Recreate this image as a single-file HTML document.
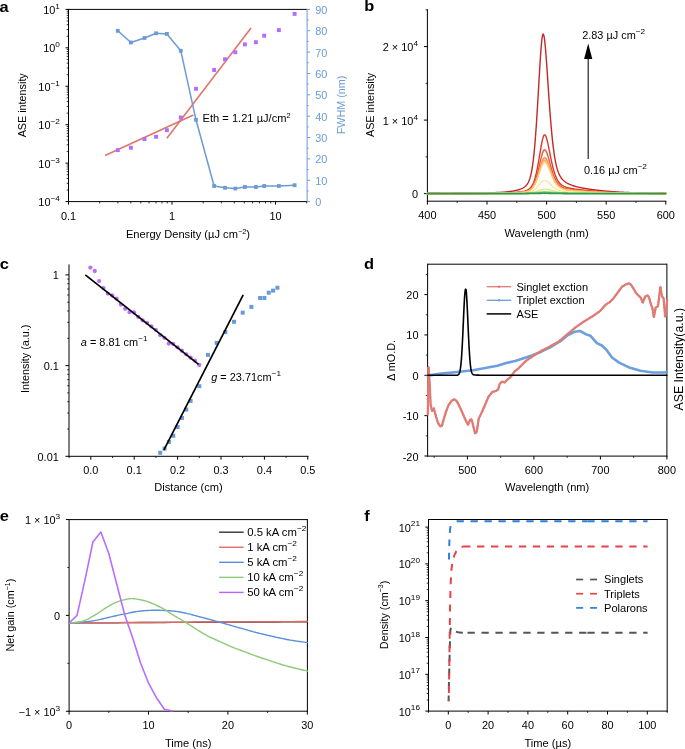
<!DOCTYPE html>
<html><head><meta charset="utf-8"><style>
html,body{margin:0;padding:0;background:#fff;}
svg{display:block;will-change:transform;}
text{font-family:"Liberation Sans", sans-serif;}
</style></head><body>
<svg width="685" height="749" viewBox="0 0 685 749">
<rect width="685" height="749" fill="#fff"/>
<text font-size="15.5" text-anchor="start" fill="#000" font-weight="bold" transform="translate(-0.60 11.50) scale(1.06 1)" >a</text>
<line x1="68.50" y1="9.40" x2="307.10" y2="9.40" stroke="#000" stroke-width="1" />
<line x1="68.50" y1="8.90" x2="68.50" y2="202.10" stroke="#000" stroke-width="1" />
<line x1="68.00" y1="201.60" x2="307.10" y2="201.60" stroke="#000" stroke-width="1" />
<line x1="307.10" y1="8.90" x2="307.10" y2="202.10" stroke="#6a9bd6" stroke-width="1" />
<line x1="65.50" y1="201.60" x2="68.50" y2="201.60" stroke="#000" stroke-width="1" />
<line x1="66.70" y1="190.03" x2="68.50" y2="190.03" stroke="#000" stroke-width="0.8" />
<line x1="66.70" y1="183.26" x2="68.50" y2="183.26" stroke="#000" stroke-width="0.8" />
<line x1="66.70" y1="178.46" x2="68.50" y2="178.46" stroke="#000" stroke-width="0.8" />
<line x1="66.70" y1="174.73" x2="68.50" y2="174.73" stroke="#000" stroke-width="0.8" />
<line x1="66.70" y1="171.69" x2="68.50" y2="171.69" stroke="#000" stroke-width="0.8" />
<line x1="66.70" y1="169.11" x2="68.50" y2="169.11" stroke="#000" stroke-width="0.8" />
<line x1="66.70" y1="166.89" x2="68.50" y2="166.89" stroke="#000" stroke-width="0.8" />
<line x1="66.70" y1="164.92" x2="68.50" y2="164.92" stroke="#000" stroke-width="0.8" />
<text font-size="10.3" text-anchor="end" fill="#000" transform="translate(59.90 206.10) scale(1.06 1)" >10<tspan dy="-5.1" font-size="7.8">−4</tspan></text>
<line x1="65.50" y1="163.16" x2="68.50" y2="163.16" stroke="#000" stroke-width="1" />
<line x1="66.70" y1="151.59" x2="68.50" y2="151.59" stroke="#000" stroke-width="0.8" />
<line x1="66.70" y1="144.82" x2="68.50" y2="144.82" stroke="#000" stroke-width="0.8" />
<line x1="66.70" y1="140.02" x2="68.50" y2="140.02" stroke="#000" stroke-width="0.8" />
<line x1="66.70" y1="136.29" x2="68.50" y2="136.29" stroke="#000" stroke-width="0.8" />
<line x1="66.70" y1="133.25" x2="68.50" y2="133.25" stroke="#000" stroke-width="0.8" />
<line x1="66.70" y1="130.67" x2="68.50" y2="130.67" stroke="#000" stroke-width="0.8" />
<line x1="66.70" y1="128.45" x2="68.50" y2="128.45" stroke="#000" stroke-width="0.8" />
<line x1="66.70" y1="126.48" x2="68.50" y2="126.48" stroke="#000" stroke-width="0.8" />
<text font-size="10.3" text-anchor="end" fill="#000" transform="translate(59.90 167.66) scale(1.06 1)" >10<tspan dy="-5.1" font-size="7.8">−3</tspan></text>
<line x1="65.50" y1="124.72" x2="68.50" y2="124.72" stroke="#000" stroke-width="1" />
<line x1="66.70" y1="113.15" x2="68.50" y2="113.15" stroke="#000" stroke-width="0.8" />
<line x1="66.70" y1="106.38" x2="68.50" y2="106.38" stroke="#000" stroke-width="0.8" />
<line x1="66.70" y1="101.58" x2="68.50" y2="101.58" stroke="#000" stroke-width="0.8" />
<line x1="66.70" y1="97.85" x2="68.50" y2="97.85" stroke="#000" stroke-width="0.8" />
<line x1="66.70" y1="94.81" x2="68.50" y2="94.81" stroke="#000" stroke-width="0.8" />
<line x1="66.70" y1="92.23" x2="68.50" y2="92.23" stroke="#000" stroke-width="0.8" />
<line x1="66.70" y1="90.01" x2="68.50" y2="90.01" stroke="#000" stroke-width="0.8" />
<line x1="66.70" y1="88.04" x2="68.50" y2="88.04" stroke="#000" stroke-width="0.8" />
<text font-size="10.3" text-anchor="end" fill="#000" transform="translate(59.90 129.22) scale(1.06 1)" >10<tspan dy="-5.1" font-size="7.8">−2</tspan></text>
<line x1="65.50" y1="86.28" x2="68.50" y2="86.28" stroke="#000" stroke-width="1" />
<line x1="66.70" y1="74.71" x2="68.50" y2="74.71" stroke="#000" stroke-width="0.8" />
<line x1="66.70" y1="67.94" x2="68.50" y2="67.94" stroke="#000" stroke-width="0.8" />
<line x1="66.70" y1="63.14" x2="68.50" y2="63.14" stroke="#000" stroke-width="0.8" />
<line x1="66.70" y1="59.41" x2="68.50" y2="59.41" stroke="#000" stroke-width="0.8" />
<line x1="66.70" y1="56.37" x2="68.50" y2="56.37" stroke="#000" stroke-width="0.8" />
<line x1="66.70" y1="53.79" x2="68.50" y2="53.79" stroke="#000" stroke-width="0.8" />
<line x1="66.70" y1="51.57" x2="68.50" y2="51.57" stroke="#000" stroke-width="0.8" />
<line x1="66.70" y1="49.60" x2="68.50" y2="49.60" stroke="#000" stroke-width="0.8" />
<text font-size="10.3" text-anchor="end" fill="#000" transform="translate(59.90 90.78) scale(1.06 1)" >10<tspan dy="-5.1" font-size="7.8">−1</tspan></text>
<line x1="65.50" y1="47.84" x2="68.50" y2="47.84" stroke="#000" stroke-width="1" />
<line x1="66.70" y1="36.27" x2="68.50" y2="36.27" stroke="#000" stroke-width="0.8" />
<line x1="66.70" y1="29.50" x2="68.50" y2="29.50" stroke="#000" stroke-width="0.8" />
<line x1="66.70" y1="24.70" x2="68.50" y2="24.70" stroke="#000" stroke-width="0.8" />
<line x1="66.70" y1="20.97" x2="68.50" y2="20.97" stroke="#000" stroke-width="0.8" />
<line x1="66.70" y1="17.93" x2="68.50" y2="17.93" stroke="#000" stroke-width="0.8" />
<line x1="66.70" y1="15.35" x2="68.50" y2="15.35" stroke="#000" stroke-width="0.8" />
<line x1="66.70" y1="13.13" x2="68.50" y2="13.13" stroke="#000" stroke-width="0.8" />
<line x1="66.70" y1="11.16" x2="68.50" y2="11.16" stroke="#000" stroke-width="0.8" />
<text font-size="10.3" text-anchor="end" fill="#000" transform="translate(59.90 52.34) scale(1.06 1)" >10<tspan dy="-5.1" font-size="7.8">0</tspan></text>
<line x1="65.50" y1="9.40" x2="68.50" y2="9.40" stroke="#000" stroke-width="1" />
<text font-size="10.3" text-anchor="end" fill="#000" transform="translate(59.90 13.90) scale(1.06 1)" >10<tspan dy="-5.1" font-size="7.8">1</tspan></text>
<line x1="68.50" y1="201.60" x2="68.50" y2="204.60" stroke="#000" stroke-width="1" />
<line x1="99.66" y1="201.60" x2="99.66" y2="203.40" stroke="#000" stroke-width="0.8" />
<line x1="117.88" y1="201.60" x2="117.88" y2="203.40" stroke="#000" stroke-width="0.8" />
<line x1="130.81" y1="201.60" x2="130.81" y2="203.40" stroke="#000" stroke-width="0.8" />
<line x1="140.84" y1="201.60" x2="140.84" y2="203.40" stroke="#000" stroke-width="0.8" />
<line x1="149.04" y1="201.60" x2="149.04" y2="203.40" stroke="#000" stroke-width="0.8" />
<line x1="155.97" y1="201.60" x2="155.97" y2="203.40" stroke="#000" stroke-width="0.8" />
<line x1="161.97" y1="201.60" x2="161.97" y2="203.40" stroke="#000" stroke-width="0.8" />
<line x1="167.26" y1="201.60" x2="167.26" y2="203.40" stroke="#000" stroke-width="0.8" />
<line x1="172.00" y1="201.60" x2="172.00" y2="204.60" stroke="#000" stroke-width="1" />
<line x1="203.16" y1="201.60" x2="203.16" y2="203.40" stroke="#000" stroke-width="0.8" />
<line x1="221.38" y1="201.60" x2="221.38" y2="203.40" stroke="#000" stroke-width="0.8" />
<line x1="234.31" y1="201.60" x2="234.31" y2="203.40" stroke="#000" stroke-width="0.8" />
<line x1="244.34" y1="201.60" x2="244.34" y2="203.40" stroke="#000" stroke-width="0.8" />
<line x1="252.54" y1="201.60" x2="252.54" y2="203.40" stroke="#000" stroke-width="0.8" />
<line x1="259.47" y1="201.60" x2="259.47" y2="203.40" stroke="#000" stroke-width="0.8" />
<line x1="265.47" y1="201.60" x2="265.47" y2="203.40" stroke="#000" stroke-width="0.8" />
<line x1="270.76" y1="201.60" x2="270.76" y2="203.40" stroke="#000" stroke-width="0.8" />
<line x1="275.50" y1="201.60" x2="275.50" y2="204.60" stroke="#000" stroke-width="1" />
<line x1="306.66" y1="201.60" x2="306.66" y2="203.40" stroke="#000" stroke-width="0.8" />
<text font-size="10.3" text-anchor="middle" fill="#000" transform="translate(68.50 219.80) scale(1.06 1)" >0.1</text>
<text font-size="10.3" text-anchor="middle" fill="#000" transform="translate(172.00 219.80) scale(1.06 1)" >1</text>
<text font-size="10.3" text-anchor="middle" fill="#000" transform="translate(275.50 219.80) scale(1.06 1)" >10</text>
<text font-size="10.5" text-anchor="middle" fill="#000" transform="translate(188.00 237.80) scale(1.06 1)" >Energy Density (µJ cm<tspan dy="-4" font-size="7">−2</tspan><tspan dy="4">)</tspan></text>
<text font-size="10.8" text-anchor="middle" fill="#000" transform="translate(26.20 105.30) scale(1.06 1) rotate(-90)" >ASE intensity</text>
<line x1="307.10" y1="201.60" x2="310.10" y2="201.60" stroke="#6a9bd6" stroke-width="1" />
<text font-size="10.3" text-anchor="start" fill="#6a9bd6" transform="translate(315.30 206.10) scale(1.06 1)" >0</text>
<line x1="307.10" y1="180.24" x2="310.10" y2="180.24" stroke="#6a9bd6" stroke-width="1" />
<text font-size="10.3" text-anchor="start" fill="#6a9bd6" transform="translate(315.30 184.74) scale(1.06 1)" >10</text>
<line x1="307.10" y1="158.89" x2="310.10" y2="158.89" stroke="#6a9bd6" stroke-width="1" />
<text font-size="10.3" text-anchor="start" fill="#6a9bd6" transform="translate(315.30 163.39) scale(1.06 1)" >20</text>
<line x1="307.10" y1="137.53" x2="310.10" y2="137.53" stroke="#6a9bd6" stroke-width="1" />
<text font-size="10.3" text-anchor="start" fill="#6a9bd6" transform="translate(315.30 142.03) scale(1.06 1)" >30</text>
<line x1="307.10" y1="116.18" x2="310.10" y2="116.18" stroke="#6a9bd6" stroke-width="1" />
<text font-size="10.3" text-anchor="start" fill="#6a9bd6" transform="translate(315.30 120.68) scale(1.06 1)" >40</text>
<line x1="307.10" y1="94.82" x2="310.10" y2="94.82" stroke="#6a9bd6" stroke-width="1" />
<text font-size="10.3" text-anchor="start" fill="#6a9bd6" transform="translate(315.30 99.32) scale(1.06 1)" >50</text>
<line x1="307.10" y1="73.47" x2="310.10" y2="73.47" stroke="#6a9bd6" stroke-width="1" />
<text font-size="10.3" text-anchor="start" fill="#6a9bd6" transform="translate(315.30 77.97) scale(1.06 1)" >60</text>
<line x1="307.10" y1="52.11" x2="310.10" y2="52.11" stroke="#6a9bd6" stroke-width="1" />
<text font-size="10.3" text-anchor="start" fill="#6a9bd6" transform="translate(315.30 56.61) scale(1.06 1)" >70</text>
<line x1="307.10" y1="30.76" x2="310.10" y2="30.76" stroke="#6a9bd6" stroke-width="1" />
<text font-size="10.3" text-anchor="start" fill="#6a9bd6" transform="translate(315.30 35.26) scale(1.06 1)" >80</text>
<line x1="307.10" y1="9.40" x2="310.10" y2="9.40" stroke="#6a9bd6" stroke-width="1" />
<text font-size="10.3" text-anchor="start" fill="#6a9bd6" transform="translate(315.30 13.90) scale(1.06 1)" >90</text>
<line x1="307.10" y1="190.92" x2="308.90" y2="190.92" stroke="#6a9bd6" stroke-width="0.8" />
<line x1="307.10" y1="169.57" x2="308.90" y2="169.57" stroke="#6a9bd6" stroke-width="0.8" />
<line x1="307.10" y1="148.21" x2="308.90" y2="148.21" stroke="#6a9bd6" stroke-width="0.8" />
<line x1="307.10" y1="126.86" x2="308.90" y2="126.86" stroke="#6a9bd6" stroke-width="0.8" />
<line x1="307.10" y1="105.50" x2="308.90" y2="105.50" stroke="#6a9bd6" stroke-width="0.8" />
<line x1="307.10" y1="84.14" x2="308.90" y2="84.14" stroke="#6a9bd6" stroke-width="0.8" />
<line x1="307.10" y1="62.79" x2="308.90" y2="62.79" stroke="#6a9bd6" stroke-width="0.8" />
<line x1="307.10" y1="41.43" x2="308.90" y2="41.43" stroke="#6a9bd6" stroke-width="0.8" />
<line x1="307.10" y1="20.08" x2="308.90" y2="20.08" stroke="#6a9bd6" stroke-width="0.8" />
<text font-size="10.8" text-anchor="middle" fill="#6a9bd6" transform="translate(344.50 105.00) scale(1.06 1) rotate(-90)" >FWHM (nm)</text>
<polyline points="117.80,30.80 130.90,42.50 144.50,38.00 156.10,33.30 166.90,33.90 180.80,50.80 196.00,119.80 214.10,186.00 225.00,187.80 235.30,188.60 244.90,187.00 255.90,187.00 264.20,186.00 278.90,186.00 294.60,185.20" fill="none" stroke="#6a9bd6" stroke-width="1.5" stroke-linejoin="round" stroke-linecap="round" />
<rect x="115.90" y="28.90" width="3.8" height="3.8" fill="#6a9bd6"/>
<rect x="129.00" y="40.60" width="3.8" height="3.8" fill="#6a9bd6"/>
<rect x="142.60" y="36.10" width="3.8" height="3.8" fill="#6a9bd6"/>
<rect x="154.20" y="31.40" width="3.8" height="3.8" fill="#6a9bd6"/>
<rect x="165.00" y="32.00" width="3.8" height="3.8" fill="#6a9bd6"/>
<rect x="178.90" y="48.90" width="3.8" height="3.8" fill="#6a9bd6"/>
<rect x="194.10" y="117.90" width="3.8" height="3.8" fill="#6a9bd6"/>
<rect x="212.20" y="184.10" width="3.8" height="3.8" fill="#6a9bd6"/>
<rect x="223.10" y="185.90" width="3.8" height="3.8" fill="#6a9bd6"/>
<rect x="233.40" y="186.70" width="3.8" height="3.8" fill="#6a9bd6"/>
<rect x="243.00" y="185.10" width="3.8" height="3.8" fill="#6a9bd6"/>
<rect x="254.00" y="185.10" width="3.8" height="3.8" fill="#6a9bd6"/>
<rect x="262.30" y="184.10" width="3.8" height="3.8" fill="#6a9bd6"/>
<rect x="277.00" y="184.10" width="3.8" height="3.8" fill="#6a9bd6"/>
<rect x="292.70" y="183.30" width="3.8" height="3.8" fill="#6a9bd6"/>
<line x1="105.10" y1="155.50" x2="193.40" y2="115.00" stroke="#e0766a" stroke-width="1.6" />
<line x1="166.90" y1="138.20" x2="251.00" y2="28.10" stroke="#e0766a" stroke-width="1.6" />
<rect x="115.85" y="148.15" width="3.9" height="3.9" fill="#b46bff"/>
<rect x="128.95" y="145.75" width="3.9" height="3.9" fill="#b46bff"/>
<rect x="142.55" y="137.05" width="3.9" height="3.9" fill="#b46bff"/>
<rect x="154.15" y="134.85" width="3.9" height="3.9" fill="#b46bff"/>
<rect x="164.95" y="128.25" width="3.9" height="3.9" fill="#b46bff"/>
<rect x="178.85" y="115.55" width="3.9" height="3.9" fill="#b46bff"/>
<rect x="194.05" y="86.85" width="3.9" height="3.9" fill="#b46bff"/>
<rect x="212.15" y="68.05" width="3.9" height="3.9" fill="#b46bff"/>
<rect x="223.05" y="57.35" width="3.9" height="3.9" fill="#b46bff"/>
<rect x="233.35" y="50.35" width="3.9" height="3.9" fill="#b46bff"/>
<rect x="242.95" y="42.45" width="3.9" height="3.9" fill="#b46bff"/>
<rect x="253.95" y="40.25" width="3.9" height="3.9" fill="#b46bff"/>
<rect x="262.25" y="33.75" width="3.9" height="3.9" fill="#b46bff"/>
<rect x="276.95" y="28.15" width="3.9" height="3.9" fill="#b46bff"/>
<rect x="292.65" y="11.95" width="3.9" height="3.9" fill="#b46bff"/>
<text font-size="10.5" text-anchor="start" fill="#000" transform="translate(202.60 121.90) scale(1.06 1)" >Eth = 1.21 µJ/cm<tspan dy="-4.2" font-size="7">2</tspan></text>
<text font-size="15.5" text-anchor="start" fill="#000" font-weight="bold" transform="translate(364.30 11.40) scale(1.06 1)" >b</text>
<line x1="427.40" y1="9.20" x2="427.40" y2="201.70" stroke="#000" stroke-width="1" />
<line x1="426.90" y1="201.20" x2="666.30" y2="201.20" stroke="#000" stroke-width="1" />
<line x1="423.90" y1="193.60" x2="427.40" y2="193.60" stroke="#000" stroke-width="1" />
<line x1="423.90" y1="120.10" x2="427.40" y2="120.10" stroke="#000" stroke-width="1" />
<line x1="423.90" y1="46.60" x2="427.40" y2="46.60" stroke="#000" stroke-width="1" />
<line x1="425.60" y1="156.85" x2="427.40" y2="156.85" stroke="#000" stroke-width="0.8" />
<line x1="425.60" y1="83.35" x2="427.40" y2="83.35" stroke="#000" stroke-width="0.8" />
<line x1="425.60" y1="9.85" x2="427.40" y2="9.85" stroke="#000" stroke-width="0.8" />
<text font-size="10.3" text-anchor="end" fill="#000" transform="translate(418.00 198.10) scale(1.06 1)" >0</text>
<text font-size="10.3" text-anchor="end" fill="#000" transform="translate(418.00 124.60) scale(1.06 1)" >1 × 10<tspan dy="-5.1" font-size="7.8">4</tspan></text>
<text font-size="10.3" text-anchor="end" fill="#000" transform="translate(418.00 51.10) scale(1.06 1)" >2 × 10<tspan dy="-5.1" font-size="7.8">4</tspan></text>
<line x1="427.40" y1="201.20" x2="427.40" y2="204.60" stroke="#000" stroke-width="1" />
<text font-size="10.3" text-anchor="middle" fill="#000" transform="translate(427.40 219.20) scale(1.06 1)" >400</text>
<line x1="487.00" y1="201.20" x2="487.00" y2="204.60" stroke="#000" stroke-width="1" />
<text font-size="10.3" text-anchor="middle" fill="#000" transform="translate(487.00 219.20) scale(1.06 1)" >450</text>
<line x1="546.60" y1="201.20" x2="546.60" y2="204.60" stroke="#000" stroke-width="1" />
<text font-size="10.3" text-anchor="middle" fill="#000" transform="translate(546.60 219.20) scale(1.06 1)" >500</text>
<line x1="606.20" y1="201.20" x2="606.20" y2="204.60" stroke="#000" stroke-width="1" />
<text font-size="10.3" text-anchor="middle" fill="#000" transform="translate(606.20 219.20) scale(1.06 1)" >550</text>
<line x1="665.80" y1="201.20" x2="665.80" y2="204.60" stroke="#000" stroke-width="1" />
<text font-size="10.3" text-anchor="middle" fill="#000" transform="translate(665.80 219.20) scale(1.06 1)" >600</text>
<line x1="457.20" y1="201.20" x2="457.20" y2="203.00" stroke="#000" stroke-width="0.8" />
<line x1="516.80" y1="201.20" x2="516.80" y2="203.00" stroke="#000" stroke-width="0.8" />
<line x1="576.40" y1="201.20" x2="576.40" y2="203.00" stroke="#000" stroke-width="0.8" />
<line x1="636.00" y1="201.20" x2="636.00" y2="203.00" stroke="#000" stroke-width="0.8" />
<text font-size="10.5" text-anchor="middle" fill="#000" transform="translate(546.60 236.60) scale(1.06 1)" >Wavelength (nm)</text>
<text font-size="10.8" text-anchor="middle" fill="#000" transform="translate(374.30 105.00) scale(1.06 1) rotate(-90)" >ASE intensity</text>
<polyline points="427.40,193.43 428.00,193.43 428.59,193.42 429.19,193.42 429.78,193.42 430.38,193.42 430.98,193.42 431.57,193.41 432.17,193.41 432.76,193.41 433.36,193.41 433.96,193.41 434.55,193.40 435.15,193.40 435.74,193.40 436.34,193.40 436.94,193.40 437.53,193.39 438.13,193.39 438.72,193.39 439.32,193.39 439.92,193.38 440.51,193.38 441.11,193.38 441.70,193.38 442.30,193.37 442.90,193.37 443.49,193.37 444.09,193.36 444.68,193.36 445.28,193.36 445.88,193.36 446.47,193.35 447.07,193.35 447.66,193.35 448.26,193.34 448.86,193.34 449.45,193.34 450.05,193.33 450.64,193.33 451.24,193.33 451.84,193.32 452.43,193.32 453.03,193.32 453.62,193.31 454.22,193.31 454.82,193.30 455.41,193.30 456.01,193.30 456.60,193.29 457.20,193.29 457.80,193.28 458.39,193.28 458.99,193.27 459.58,193.27 460.18,193.27 460.78,193.26 461.37,193.26 461.97,193.25 462.56,193.25 463.16,193.24 463.76,193.23 464.35,193.23 464.95,193.22 465.54,193.22 466.14,193.21 466.74,193.21 467.33,193.20 467.93,193.19 468.52,193.19 469.12,193.18 469.72,193.17 470.31,193.17 470.91,193.16 471.50,193.15 472.10,193.14 472.70,193.14 473.29,193.13 473.89,193.12 474.48,193.11 475.08,193.10 475.68,193.10 476.27,193.09 476.87,193.08 477.46,193.07 478.06,193.06 478.66,193.05 479.25,193.04 479.85,193.03 480.44,193.02 481.04,193.00 481.64,192.99 482.23,192.98 482.83,192.97 483.42,192.96 484.02,192.94 484.62,192.93 485.21,192.92 485.81,192.90 486.40,192.89 487.00,192.87 487.60,192.86 488.19,192.84 488.79,192.82 489.38,192.81 489.98,192.79 490.58,192.77 491.17,192.75 491.77,192.73 492.36,192.71 492.96,192.69 493.56,192.67 494.15,192.65 494.75,192.62 495.34,192.60 495.94,192.57 496.54,192.55 497.13,192.52 497.73,192.49 498.32,192.46 498.92,192.43 499.52,192.40 500.11,192.36 500.71,192.33 501.30,192.29 501.90,192.25 502.50,192.21 503.09,192.17 503.69,192.13 504.28,192.08 504.88,192.03 505.48,191.98 506.07,191.93 506.67,191.87 507.26,191.81 507.86,191.75 508.46,191.68 509.05,191.62 509.65,191.54 510.24,191.47 510.84,191.39 511.44,191.30 512.03,191.21 512.63,191.12 513.22,191.01 513.82,190.91 514.42,190.79 515.01,190.67 515.61,190.54 516.20,190.41 516.80,190.26 517.40,190.11 517.99,189.94 518.59,189.76 519.18,189.58 519.78,189.37 520.38,189.15 520.97,188.92 521.57,188.66 522.16,188.38 522.76,188.08 523.36,187.75 523.95,187.38 524.55,186.96 525.14,186.49 525.74,185.96 526.34,185.34 526.93,184.62 527.53,183.78 528.12,182.77 528.72,181.57 529.32,180.13 529.91,178.40 530.51,176.32 531.10,173.82 531.70,170.85 532.30,167.34 532.89,163.20 533.49,158.39 534.08,152.85 534.68,146.54 535.28,139.44 535.87,131.56 536.47,122.94 537.06,113.66 537.66,103.83 538.26,93.61 538.85,83.21 539.45,72.92 540.04,63.05 540.64,53.99 541.24,46.15 541.83,39.98 542.43,35.86 543.02,34.06 543.62,34.62 544.22,37.22 544.81,41.69 545.41,47.74 546.00,55.02 546.60,63.16 547.20,71.83 547.79,80.75 548.39,89.66 548.98,98.37 549.58,106.76 550.18,114.71 550.77,122.15 551.37,129.05 551.96,135.37 552.56,141.12 553.16,146.30 553.75,150.94 554.35,155.06 554.94,158.70 555.54,161.90 556.14,164.70 556.73,167.14 557.33,169.27 557.92,171.12 558.52,172.73 559.12,174.13 559.71,175.35 560.31,176.43 560.90,177.38 561.50,178.22 562.10,178.96 562.69,179.63 563.29,180.24 563.88,180.78 564.48,181.28 565.08,181.74 565.67,182.16 566.27,182.56 566.86,182.92 567.46,183.26 568.06,183.58 568.65,183.88 569.25,184.16 569.84,184.43 570.44,184.68 571.04,184.92 571.63,185.15 572.23,185.37 572.82,185.57 573.42,185.77 574.02,185.96 574.61,186.14 575.21,186.31 575.80,186.48 576.40,186.64 577.00,186.80 577.59,186.94 578.19,187.09 578.78,187.23 579.38,187.36 579.98,187.49 580.57,187.62 581.17,187.74 581.76,187.86 582.36,187.98 582.96,188.09 583.55,188.20 584.15,188.31 584.74,188.41 585.34,188.52 585.94,188.62 586.53,188.71 587.13,188.81 587.72,188.90 588.32,189.00 588.92,189.09 589.51,189.17 590.11,189.26 590.70,189.35 591.30,189.43 591.90,189.51 592.49,189.59 593.09,189.67 593.68,189.75 594.28,189.82 594.88,189.90 595.47,189.97 596.07,190.05 596.66,190.12 597.26,190.19 597.86,190.26 598.45,190.32 599.05,190.39 599.64,190.46 600.24,190.52 600.84,190.59 601.43,190.65 602.03,190.71 602.62,190.77 603.22,190.83 603.82,190.89 604.41,190.95 605.01,191.00 605.60,191.06 606.20,191.11 606.80,191.17 607.39,191.22 607.99,191.27 608.58,191.32 609.18,191.37 609.78,191.42 610.37,191.47 610.97,191.52 611.56,191.56 612.16,191.61 612.76,191.65 613.35,191.70 613.95,191.74 614.54,191.78 615.14,191.82 615.74,191.86 616.33,191.90 616.93,191.94 617.52,191.98 618.12,192.02 618.72,192.06 619.31,192.09 619.91,192.13 620.50,192.16 621.10,192.19 621.70,192.23 622.29,192.26 622.89,192.29 623.48,192.32 624.08,192.35 624.68,192.38 625.27,192.41 625.87,192.44 626.46,192.46 627.06,192.49 627.66,192.51 628.25,192.54 628.85,192.56 629.44,192.59 630.04,192.61 630.64,192.63 631.23,192.66 631.83,192.68 632.42,192.70 633.02,192.72 633.62,192.74 634.21,192.76 634.81,192.78 635.40,192.80 636.00,192.81 636.60,192.83 637.19,192.85 637.79,192.87 638.38,192.88 638.98,192.90 639.58,192.91 640.17,192.93 640.77,192.94 641.36,192.95 641.96,192.97 642.56,192.98 643.15,192.99 643.75,193.01 644.34,193.02 644.94,193.03 645.54,193.04 646.13,193.05 646.73,193.06 647.32,193.07 647.92,193.08 648.52,193.09 649.11,193.10 649.71,193.11 650.30,193.12 650.90,193.13 651.50,193.14 652.09,193.15 652.69,193.16 653.28,193.16 653.88,193.17 654.48,193.18 655.07,193.18 655.67,193.19 656.26,193.20 656.86,193.20 657.46,193.21 658.05,193.22 658.65,193.22 659.24,193.23 659.84,193.23 660.44,193.24 661.03,193.25 661.63,193.25 662.22,193.26 662.82,193.26 663.42,193.27 664.01,193.27 664.61,193.27 665.20,193.28 665.80,193.28" fill="none" stroke="#bf2a28" stroke-width="1.4" stroke-linejoin="round" stroke-linecap="round" />
<polyline points="427.40,193.53 428.00,193.53 428.59,193.53 429.19,193.53 429.78,193.53 430.38,193.53 430.98,193.53 431.57,193.53 432.17,193.53 432.76,193.53 433.36,193.52 433.96,193.52 434.55,193.52 435.15,193.52 435.74,193.52 436.34,193.52 436.94,193.52 437.53,193.52 438.13,193.52 438.72,193.52 439.32,193.52 439.92,193.52 440.51,193.51 441.11,193.51 441.70,193.51 442.30,193.51 442.90,193.51 443.49,193.51 444.09,193.51 444.68,193.51 445.28,193.51 445.88,193.50 446.47,193.50 447.07,193.50 447.66,193.50 448.26,193.50 448.86,193.50 449.45,193.50 450.05,193.50 450.64,193.49 451.24,193.49 451.84,193.49 452.43,193.49 453.03,193.49 453.62,193.49 454.22,193.49 454.82,193.48 455.41,193.48 456.01,193.48 456.60,193.48 457.20,193.48 457.80,193.48 458.39,193.48 458.99,193.47 459.58,193.47 460.18,193.47 460.78,193.47 461.37,193.47 461.97,193.46 462.56,193.46 463.16,193.46 463.76,193.46 464.35,193.46 464.95,193.45 465.54,193.45 466.14,193.45 466.74,193.45 467.33,193.44 467.93,193.44 468.52,193.44 469.12,193.44 469.72,193.43 470.31,193.43 470.91,193.43 471.50,193.43 472.10,193.42 472.70,193.42 473.29,193.42 473.89,193.41 474.48,193.41 475.08,193.41 475.68,193.41 476.27,193.40 476.87,193.40 477.46,193.39 478.06,193.39 478.66,193.39 479.25,193.38 479.85,193.38 480.44,193.38 481.04,193.37 481.64,193.37 482.23,193.36 482.83,193.36 483.42,193.35 484.02,193.35 484.62,193.34 485.21,193.34 485.81,193.33 486.40,193.33 487.00,193.32 487.60,193.32 488.19,193.31 488.79,193.30 489.38,193.30 489.98,193.29 490.58,193.28 491.17,193.28 491.77,193.27 492.36,193.26 492.96,193.25 493.56,193.24 494.15,193.24 494.75,193.23 495.34,193.22 495.94,193.21 496.54,193.20 497.13,193.19 497.73,193.18 498.32,193.17 498.92,193.15 499.52,193.14 500.11,193.13 500.71,193.11 501.30,193.10 501.90,193.09 502.50,193.07 503.09,193.05 503.69,193.04 504.28,193.02 504.88,193.00 505.48,192.98 506.07,192.96 506.67,192.94 507.26,192.92 507.86,192.89 508.46,192.87 509.05,192.84 509.65,192.81 510.24,192.78 510.84,192.75 511.44,192.72 512.03,192.68 512.63,192.64 513.22,192.60 513.82,192.56 514.42,192.52 515.01,192.47 515.61,192.42 516.20,192.36 516.80,192.31 517.40,192.25 517.99,192.18 518.59,192.11 519.18,192.04 519.78,191.96 520.38,191.88 520.97,191.79 521.57,191.69 522.16,191.59 522.76,191.47 523.36,191.35 523.95,191.22 524.55,191.07 525.14,190.91 525.74,190.72 526.34,190.51 526.93,190.28 527.53,190.01 528.12,189.69 528.72,189.32 529.32,188.89 529.91,188.38 530.51,187.78 531.10,187.06 531.70,186.22 532.30,185.22 532.89,184.06 533.49,182.70 534.08,181.13 534.68,179.33 535.28,177.28 535.87,174.98 536.47,172.43 537.06,169.63 537.66,166.59 538.26,163.35 538.85,159.93 539.45,156.40 540.04,152.81 540.64,149.26 541.24,145.83 541.83,142.66 542.43,139.86 543.02,137.57 543.62,135.91 544.22,134.98 544.81,134.83 545.41,135.38 546.00,136.56 546.60,138.31 547.20,140.52 547.79,143.08 548.39,145.89 548.98,148.85 549.58,151.87 550.18,154.88 550.77,157.83 551.37,160.66 551.96,163.36 552.56,165.89 553.16,168.25 553.75,170.43 554.35,172.43 554.94,174.24 555.54,175.87 556.14,177.34 556.73,178.65 557.33,179.81 557.92,180.83 558.52,181.74 559.12,182.53 559.71,183.23 560.31,183.85 560.90,184.39 561.50,184.87 562.10,185.29 562.69,185.66 563.29,185.99 563.88,186.28 564.48,186.55 565.08,186.79 565.67,187.01 566.27,187.21 566.86,187.39 567.46,187.56 568.06,187.72 568.65,187.86 569.25,188.00 569.84,188.14 570.44,188.26 571.04,188.38 571.63,188.49 572.23,188.60 572.82,188.70 573.42,188.80 574.02,188.89 574.61,188.99 575.21,189.07 575.80,189.16 576.40,189.24 577.00,189.32 577.59,189.40 578.19,189.48 578.78,189.55 579.38,189.62 579.98,189.69 580.57,189.76 581.17,189.83 581.76,189.90 582.36,189.96 582.96,190.03 583.55,190.09 584.15,190.15 584.74,190.21 585.34,190.27 585.94,190.33 586.53,190.39 587.13,190.45 587.72,190.50 588.32,190.56 588.92,190.61 589.51,190.67 590.11,190.72 590.70,190.77 591.30,190.83 591.90,190.88 592.49,190.93 593.09,190.98 593.68,191.03 594.28,191.08 594.88,191.13 595.47,191.17 596.07,191.22 596.66,191.27 597.26,191.32 597.86,191.36 598.45,191.41 599.05,191.45 599.64,191.50 600.24,191.54 600.84,191.58 601.43,191.63 602.03,191.67 602.62,191.71 603.22,191.75 603.82,191.79 604.41,191.83 605.01,191.87 605.60,191.91 606.20,191.95 606.80,191.98 607.39,192.02 607.99,192.06 608.58,192.09 609.18,192.13 609.78,192.16 610.37,192.20 610.97,192.23 611.56,192.26 612.16,192.29 612.76,192.33 613.35,192.36 613.95,192.39 614.54,192.42 615.14,192.45 615.74,192.48 616.33,192.50 616.93,192.53 617.52,192.56 618.12,192.59 618.72,192.61 619.31,192.64 619.91,192.66 620.50,192.69 621.10,192.71 621.70,192.73 622.29,192.76 622.89,192.78 623.48,192.80 624.08,192.82 624.68,192.84 625.27,192.86 625.87,192.88 626.46,192.90 627.06,192.92 627.66,192.94 628.25,192.96 628.85,192.97 629.44,192.99 630.04,193.01 630.64,193.02 631.23,193.04 631.83,193.06 632.42,193.07 633.02,193.08 633.62,193.10 634.21,193.11 634.81,193.13 635.40,193.14 636.00,193.15 636.60,193.16 637.19,193.17 637.79,193.19 638.38,193.20 638.98,193.21 639.58,193.22 640.17,193.23 640.77,193.24 641.36,193.25 641.96,193.26 642.56,193.27 643.15,193.27 643.75,193.28 644.34,193.29 644.94,193.30 645.54,193.31 646.13,193.31 646.73,193.32 647.32,193.33 647.92,193.33 648.52,193.34 649.11,193.35 649.71,193.35 650.30,193.36 650.90,193.36 651.50,193.37 652.09,193.38 652.69,193.38 653.28,193.39 653.88,193.39 654.48,193.39 655.07,193.40 655.67,193.40 656.26,193.41 656.86,193.41 657.46,193.42 658.05,193.42 658.65,193.42 659.24,193.43 659.84,193.43 660.44,193.43 661.03,193.44 661.63,193.44 662.22,193.44 662.82,193.45 663.42,193.45 664.01,193.45 664.61,193.45 665.20,193.46 665.80,193.46" fill="none" stroke="#d83a2a" stroke-width="1.4" stroke-linejoin="round" stroke-linecap="round" />
<polyline points="427.40,193.55 428.00,193.55 428.59,193.55 429.19,193.55 429.78,193.54 430.38,193.54 430.98,193.54 431.57,193.54 432.17,193.54 432.76,193.54 433.36,193.54 433.96,193.54 434.55,193.54 435.15,193.54 435.74,193.54 436.34,193.54 436.94,193.54 437.53,193.54 438.13,193.54 438.72,193.53 439.32,193.53 439.92,193.53 440.51,193.53 441.11,193.53 441.70,193.53 442.30,193.53 442.90,193.53 443.49,193.53 444.09,193.53 444.68,193.53 445.28,193.53 445.88,193.53 446.47,193.52 447.07,193.52 447.66,193.52 448.26,193.52 448.86,193.52 449.45,193.52 450.05,193.52 450.64,193.52 451.24,193.52 451.84,193.52 452.43,193.51 453.03,193.51 453.62,193.51 454.22,193.51 454.82,193.51 455.41,193.51 456.01,193.51 456.60,193.51 457.20,193.50 457.80,193.50 458.39,193.50 458.99,193.50 459.58,193.50 460.18,193.50 460.78,193.50 461.37,193.49 461.97,193.49 462.56,193.49 463.16,193.49 463.76,193.49 464.35,193.49 464.95,193.49 465.54,193.48 466.14,193.48 466.74,193.48 467.33,193.48 467.93,193.48 468.52,193.47 469.12,193.47 469.72,193.47 470.31,193.47 470.91,193.47 471.50,193.46 472.10,193.46 472.70,193.46 473.29,193.46 473.89,193.45 474.48,193.45 475.08,193.45 475.68,193.45 476.27,193.44 476.87,193.44 477.46,193.44 478.06,193.44 478.66,193.43 479.25,193.43 479.85,193.43 480.44,193.42 481.04,193.42 481.64,193.42 482.23,193.41 482.83,193.41 483.42,193.41 484.02,193.40 484.62,193.40 485.21,193.39 485.81,193.39 486.40,193.39 487.00,193.38 487.60,193.38 488.19,193.37 488.79,193.37 489.38,193.36 489.98,193.36 490.58,193.35 491.17,193.35 491.77,193.34 492.36,193.33 492.96,193.33 493.56,193.32 494.15,193.31 494.75,193.31 495.34,193.30 495.94,193.29 496.54,193.28 497.13,193.28 497.73,193.27 498.32,193.26 498.92,193.25 499.52,193.24 500.11,193.23 500.71,193.22 501.30,193.21 501.90,193.20 502.50,193.18 503.09,193.17 503.69,193.16 504.28,193.14 504.88,193.13 505.48,193.11 506.07,193.10 506.67,193.08 507.26,193.06 507.86,193.04 508.46,193.02 509.05,193.00 509.65,192.98 510.24,192.96 510.84,192.93 511.44,192.91 512.03,192.88 512.63,192.85 513.22,192.82 513.82,192.78 514.42,192.75 515.01,192.71 515.61,192.67 516.20,192.63 516.80,192.59 517.40,192.54 517.99,192.49 518.59,192.43 519.18,192.38 519.78,192.31 520.38,192.25 520.97,192.18 521.57,192.10 522.16,192.02 522.76,191.93 523.36,191.83 523.95,191.72 524.55,191.61 525.14,191.47 525.74,191.32 526.34,191.16 526.93,190.96 527.53,190.74 528.12,190.48 528.72,190.18 529.32,189.83 529.91,189.42 530.51,188.93 531.10,188.35 531.70,187.67 532.30,186.88 532.89,185.96 533.49,184.90 534.08,183.68 534.68,182.29 535.28,180.73 535.87,178.99 536.47,177.06 537.06,174.97 537.66,172.71 538.26,170.31 538.85,167.81 539.45,165.22 540.04,162.62 540.64,160.05 541.24,157.58 541.83,155.31 542.43,153.31 543.02,151.67 543.62,150.49 544.22,149.83 544.81,149.72 545.41,150.10 546.00,150.93 546.60,152.17 547.20,153.73 547.79,155.56 548.39,157.58 548.98,159.70 549.58,161.89 550.18,164.07 550.77,166.22 551.37,168.30 551.96,170.28 552.56,172.16 553.16,173.92 553.75,175.55 554.35,177.05 554.94,178.42 555.54,179.66 556.14,180.78 556.73,181.79 557.33,182.69 557.92,183.49 558.52,184.19 559.12,184.82 559.71,185.37 560.31,185.86 560.90,186.29 561.50,186.67 562.10,187.01 562.69,187.31 563.29,187.57 563.88,187.81 564.48,188.02 565.08,188.21 565.67,188.38 566.27,188.54 566.86,188.68 567.46,188.82 568.06,188.94 568.65,189.06 569.25,189.17 569.84,189.27 570.44,189.37 571.04,189.46 571.63,189.55 572.23,189.64 572.82,189.72 573.42,189.79 574.02,189.87 574.61,189.94 575.21,190.01 575.80,190.08 576.40,190.14 577.00,190.21 577.59,190.27 578.19,190.33 578.78,190.39 579.38,190.44 579.98,190.50 580.57,190.55 581.17,190.61 581.76,190.66 582.36,190.71 582.96,190.76 583.55,190.81 584.15,190.86 584.74,190.91 585.34,190.95 585.94,191.00 586.53,191.05 587.13,191.09 587.72,191.14 588.32,191.18 588.92,191.22 589.51,191.27 590.11,191.31 590.70,191.35 591.30,191.39 591.90,191.43 592.49,191.47 593.09,191.51 593.68,191.55 594.28,191.59 594.88,191.63 595.47,191.67 596.07,191.71 596.66,191.75 597.26,191.78 597.86,191.82 598.45,191.85 599.05,191.89 599.64,191.93 600.24,191.96 600.84,191.99 601.43,192.03 602.03,192.06 602.62,192.09 603.22,192.13 603.82,192.16 604.41,192.19 605.01,192.22 605.60,192.25 606.20,192.28 606.80,192.31 607.39,192.34 607.99,192.37 608.58,192.40 609.18,192.43 609.78,192.46 610.37,192.48 610.97,192.51 611.56,192.54 612.16,192.56 612.76,192.59 613.35,192.61 613.95,192.64 614.54,192.66 615.14,192.68 615.74,192.71 616.33,192.73 616.93,192.75 617.52,192.77 618.12,192.79 618.72,192.81 619.31,192.83 619.91,192.85 620.50,192.87 621.10,192.89 621.70,192.91 622.29,192.93 622.89,192.95 623.48,192.96 624.08,192.98 624.68,193.00 625.27,193.01 625.87,193.03 626.46,193.05 627.06,193.06 627.66,193.08 628.25,193.09 628.85,193.10 629.44,193.12 630.04,193.13 630.64,193.14 631.23,193.16 631.83,193.17 632.42,193.18 633.02,193.19 633.62,193.20 634.21,193.21 634.81,193.22 635.40,193.23 636.00,193.24 636.60,193.25 637.19,193.26 637.79,193.27 638.38,193.28 638.98,193.29 639.58,193.30 640.17,193.31 640.77,193.31 641.36,193.32 641.96,193.33 642.56,193.34 643.15,193.34 643.75,193.35 644.34,193.36 644.94,193.36 645.54,193.37 646.13,193.37 646.73,193.38 647.32,193.38 647.92,193.39 648.52,193.40 649.11,193.40 649.71,193.41 650.30,193.41 650.90,193.41 651.50,193.42 652.09,193.42 652.69,193.43 653.28,193.43 653.88,193.43 654.48,193.44 655.07,193.44 655.67,193.45 656.26,193.45 656.86,193.45 657.46,193.45 658.05,193.46 658.65,193.46 659.24,193.46 659.84,193.47 660.44,193.47 661.03,193.47 661.63,193.47 662.22,193.48 662.82,193.48 663.42,193.48 664.01,193.48 664.61,193.48 665.20,193.49 665.80,193.49" fill="none" stroke="#ea5a3a" stroke-width="1.4" stroke-linejoin="round" stroke-linecap="round" />
<polyline points="427.40,193.55 428.00,193.55 428.59,193.55 429.19,193.55 429.78,193.55 430.38,193.55 430.98,193.55 431.57,193.55 432.17,193.55 432.76,193.55 433.36,193.55 433.96,193.55 434.55,193.55 435.15,193.55 435.74,193.55 436.34,193.55 436.94,193.55 437.53,193.55 438.13,193.55 438.72,193.54 439.32,193.54 439.92,193.54 440.51,193.54 441.11,193.54 441.70,193.54 442.30,193.54 442.90,193.54 443.49,193.54 444.09,193.54 444.68,193.54 445.28,193.54 445.88,193.54 446.47,193.54 447.07,193.54 447.66,193.53 448.26,193.53 448.86,193.53 449.45,193.53 450.05,193.53 450.64,193.53 451.24,193.53 451.84,193.53 452.43,193.53 453.03,193.53 453.62,193.53 454.22,193.52 454.82,193.52 455.41,193.52 456.01,193.52 456.60,193.52 457.20,193.52 457.80,193.52 458.39,193.52 458.99,193.52 459.58,193.51 460.18,193.51 460.78,193.51 461.37,193.51 461.97,193.51 462.56,193.51 463.16,193.51 463.76,193.51 464.35,193.50 464.95,193.50 465.54,193.50 466.14,193.50 466.74,193.50 467.33,193.50 467.93,193.50 468.52,193.49 469.12,193.49 469.72,193.49 470.31,193.49 470.91,193.49 471.50,193.48 472.10,193.48 472.70,193.48 473.29,193.48 473.89,193.48 474.48,193.47 475.08,193.47 475.68,193.47 476.27,193.47 476.87,193.47 477.46,193.46 478.06,193.46 478.66,193.46 479.25,193.46 479.85,193.45 480.44,193.45 481.04,193.45 481.64,193.45 482.23,193.44 482.83,193.44 483.42,193.44 484.02,193.43 484.62,193.43 485.21,193.43 485.81,193.42 486.40,193.42 487.00,193.42 487.60,193.41 488.19,193.41 488.79,193.40 489.38,193.40 489.98,193.39 490.58,193.39 491.17,193.38 491.77,193.38 492.36,193.37 492.96,193.37 493.56,193.36 494.15,193.36 494.75,193.35 495.34,193.35 495.94,193.34 496.54,193.33 497.13,193.33 497.73,193.32 498.32,193.31 498.92,193.30 499.52,193.30 500.11,193.29 500.71,193.28 501.30,193.27 501.90,193.26 502.50,193.25 503.09,193.24 503.69,193.23 504.28,193.22 504.88,193.20 505.48,193.19 506.07,193.18 506.67,193.16 507.26,193.15 507.86,193.13 508.46,193.11 509.05,193.10 509.65,193.08 510.24,193.06 510.84,193.04 511.44,193.01 512.03,192.99 512.63,192.97 513.22,192.94 513.82,192.91 514.42,192.88 515.01,192.85 515.61,192.82 516.20,192.78 516.80,192.74 517.40,192.70 517.99,192.66 518.59,192.62 519.18,192.57 519.78,192.52 520.38,192.46 520.97,192.40 521.57,192.34 522.16,192.27 522.76,192.19 523.36,192.11 523.95,192.02 524.55,191.91 525.14,191.80 525.74,191.67 526.34,191.53 526.93,191.36 527.53,191.17 528.12,190.95 528.72,190.69 529.32,190.38 529.91,190.02 530.51,189.60 531.10,189.11 531.70,188.53 532.30,187.86 532.89,187.08 533.49,186.19 534.08,185.16 534.68,184.01 535.28,182.71 535.87,181.27 536.47,179.69 537.06,177.98 537.66,176.14 538.26,174.20 538.85,172.17 539.45,170.09 540.04,167.99 540.64,165.93 541.24,163.96 541.83,162.15 542.43,160.56 543.02,159.26 543.62,158.33 544.22,157.80 544.81,157.71 545.41,158.01 546.00,158.67 546.60,159.64 547.20,160.89 547.79,162.34 548.39,163.94 548.98,165.64 549.58,167.39 550.18,169.15 550.77,170.88 551.37,172.56 551.96,174.17 552.56,175.70 553.16,177.13 553.75,178.46 554.35,179.70 554.94,180.83 555.54,181.86 556.14,182.79 556.73,183.63 557.33,184.38 557.92,185.05 558.52,185.65 559.12,186.18 559.71,186.65 560.31,187.06 560.90,187.43 561.50,187.75 562.10,188.04 562.69,188.30 563.29,188.52 563.88,188.72 564.48,188.90 565.08,189.07 565.67,189.22 566.27,189.35 566.86,189.47 567.46,189.59 568.06,189.69 568.65,189.79 569.25,189.89 569.84,189.97 570.44,190.05 571.04,190.13 571.63,190.21 572.23,190.28 572.82,190.35 573.42,190.41 574.02,190.47 574.61,190.53 575.21,190.59 575.80,190.65 576.40,190.70 577.00,190.76 577.59,190.81 578.19,190.86 578.78,190.91 579.38,190.96 579.98,191.00 580.57,191.05 581.17,191.09 581.76,191.14 582.36,191.18 582.96,191.22 583.55,191.26 584.15,191.31 584.74,191.35 585.34,191.39 585.94,191.42 586.53,191.46 587.13,191.50 587.72,191.54 588.32,191.58 588.92,191.61 589.51,191.65 590.11,191.68 590.70,191.72 591.30,191.75 591.90,191.79 592.49,191.82 593.09,191.86 593.68,191.89 594.28,191.92 594.88,191.95 595.47,191.99 596.07,192.02 596.66,192.05 597.26,192.08 597.86,192.11 598.45,192.14 599.05,192.17 599.64,192.20 600.24,192.23 600.84,192.26 601.43,192.29 602.03,192.31 602.62,192.34 603.22,192.37 603.82,192.39 604.41,192.42 605.01,192.45 605.60,192.47 606.20,192.50 606.80,192.52 607.39,192.55 607.99,192.57 608.58,192.60 609.18,192.62 609.78,192.64 610.37,192.66 610.97,192.69 611.56,192.71 612.16,192.73 612.76,192.75 613.35,192.77 613.95,192.79 614.54,192.81 615.14,192.83 615.74,192.85 616.33,192.87 616.93,192.89 617.52,192.91 618.12,192.92 618.72,192.94 619.31,192.96 619.91,192.98 620.50,192.99 621.10,193.01 621.70,193.02 622.29,193.04 622.89,193.05 623.48,193.07 624.08,193.08 624.68,193.10 625.27,193.11 625.87,193.12 626.46,193.14 627.06,193.15 627.66,193.16 628.25,193.17 628.85,193.18 629.44,193.20 630.04,193.21 630.64,193.22 631.23,193.23 631.83,193.24 632.42,193.25 633.02,193.26 633.62,193.27 634.21,193.28 634.81,193.28 635.40,193.29 636.00,193.30 636.60,193.31 637.19,193.32 637.79,193.32 638.38,193.33 638.98,193.34 639.58,193.35 640.17,193.35 640.77,193.36 641.36,193.37 641.96,193.37 642.56,193.38 643.15,193.38 643.75,193.39 644.34,193.39 644.94,193.40 645.54,193.40 646.13,193.41 646.73,193.41 647.32,193.42 647.92,193.42 648.52,193.43 649.11,193.43 649.71,193.44 650.30,193.44 650.90,193.44 651.50,193.45 652.09,193.45 652.69,193.45 653.28,193.46 653.88,193.46 654.48,193.46 655.07,193.47 655.67,193.47 656.26,193.47 656.86,193.48 657.46,193.48 658.05,193.48 658.65,193.48 659.24,193.48 659.84,193.49 660.44,193.49 661.03,193.49 661.63,193.49 662.22,193.50 662.82,193.50 663.42,193.50 664.01,193.50 664.61,193.50 665.20,193.50 665.80,193.51" fill="none" stroke="#f58a4e" stroke-width="1.4" stroke-linejoin="round" stroke-linecap="round" />
<polyline points="427.40,193.56 428.00,193.56 428.59,193.56 429.19,193.56 429.78,193.55 430.38,193.55 430.98,193.55 431.57,193.55 432.17,193.55 432.76,193.55 433.36,193.55 433.96,193.55 434.55,193.55 435.15,193.55 435.74,193.55 436.34,193.55 436.94,193.55 437.53,193.55 438.13,193.55 438.72,193.55 439.32,193.55 439.92,193.55 440.51,193.54 441.11,193.54 441.70,193.54 442.30,193.54 442.90,193.54 443.49,193.54 444.09,193.54 444.68,193.54 445.28,193.54 445.88,193.54 446.47,193.54 447.07,193.54 447.66,193.54 448.26,193.54 448.86,193.53 449.45,193.53 450.05,193.53 450.64,193.53 451.24,193.53 451.84,193.53 452.43,193.53 453.03,193.53 453.62,193.53 454.22,193.53 454.82,193.53 455.41,193.52 456.01,193.52 456.60,193.52 457.20,193.52 457.80,193.52 458.39,193.52 458.99,193.52 459.58,193.52 460.18,193.52 460.78,193.51 461.37,193.51 461.97,193.51 462.56,193.51 463.16,193.51 463.76,193.51 464.35,193.51 464.95,193.51 465.54,193.50 466.14,193.50 466.74,193.50 467.33,193.50 467.93,193.50 468.52,193.50 469.12,193.50 469.72,193.49 470.31,193.49 470.91,193.49 471.50,193.49 472.10,193.49 472.70,193.48 473.29,193.48 473.89,193.48 474.48,193.48 475.08,193.48 475.68,193.47 476.27,193.47 476.87,193.47 477.46,193.47 478.06,193.47 478.66,193.46 479.25,193.46 479.85,193.46 480.44,193.46 481.04,193.45 481.64,193.45 482.23,193.45 482.83,193.44 483.42,193.44 484.02,193.44 484.62,193.43 485.21,193.43 485.81,193.43 486.40,193.42 487.00,193.42 487.60,193.42 488.19,193.41 488.79,193.41 489.38,193.41 489.98,193.40 490.58,193.40 491.17,193.39 491.77,193.39 492.36,193.38 492.96,193.38 493.56,193.37 494.15,193.37 494.75,193.36 495.34,193.35 495.94,193.35 496.54,193.34 497.13,193.34 497.73,193.33 498.32,193.32 498.92,193.31 499.52,193.31 500.11,193.30 500.71,193.29 501.30,193.28 501.90,193.27 502.50,193.26 503.09,193.25 503.69,193.24 504.28,193.23 504.88,193.22 505.48,193.20 506.07,193.19 506.67,193.18 507.26,193.16 507.86,193.15 508.46,193.13 509.05,193.11 509.65,193.10 510.24,193.08 510.84,193.06 511.44,193.04 512.03,193.01 512.63,192.99 513.22,192.96 513.82,192.94 514.42,192.91 515.01,192.88 515.61,192.85 516.20,192.81 516.80,192.78 517.40,192.74 517.99,192.70 518.59,192.66 519.18,192.61 519.78,192.56 520.38,192.51 520.97,192.45 521.57,192.39 522.16,192.32 522.76,192.25 523.36,192.17 523.95,192.08 524.55,191.98 525.14,191.87 525.74,191.74 526.34,191.60 526.93,191.44 527.53,191.25 528.12,191.03 528.72,190.77 529.32,190.47 529.91,190.12 530.51,189.70 531.10,189.22 531.70,188.66 532.30,188.01 532.89,187.26 533.49,186.40 534.08,185.42 534.68,184.32 535.28,183.09 535.87,181.73 536.47,180.25 537.06,178.64 537.66,176.93 538.26,175.12 538.85,173.24 539.45,171.32 540.04,169.39 540.64,167.50 541.24,165.70 541.83,164.04 542.43,162.60 543.02,161.42 543.62,160.57 544.22,160.09 544.81,160.01 545.41,160.28 546.00,160.88 546.60,161.77 547.20,162.90 547.79,164.22 548.39,165.69 548.98,167.25 549.58,168.86 550.18,170.48 550.77,172.08 551.37,173.64 551.96,175.14 552.56,176.56 553.16,177.91 553.75,179.16 554.35,180.32 554.94,181.39 555.54,182.37 556.14,183.26 556.73,184.06 557.33,184.78 557.92,185.43 558.52,186.01 559.12,186.52 559.71,186.97 560.31,187.38 560.90,187.74 561.50,188.06 562.10,188.34 562.69,188.59 563.29,188.81 563.88,189.00 564.48,189.18 565.08,189.34 565.67,189.49 566.27,189.62 566.86,189.74 567.46,189.85 568.06,189.95 568.65,190.05 569.25,190.14 569.84,190.22 570.44,190.30 571.04,190.37 571.63,190.45 572.23,190.51 572.82,190.58 573.42,190.64 574.02,190.70 574.61,190.76 575.21,190.81 575.80,190.87 576.40,190.92 577.00,190.97 577.59,191.02 578.19,191.07 578.78,191.11 579.38,191.16 579.98,191.20 580.57,191.24 581.17,191.29 581.76,191.33 582.36,191.37 582.96,191.41 583.55,191.45 584.15,191.49 584.74,191.52 585.34,191.56 585.94,191.60 586.53,191.63 587.13,191.67 587.72,191.70 588.32,191.74 588.92,191.77 589.51,191.80 590.11,191.84 590.70,191.87 591.30,191.90 591.90,191.93 592.49,191.97 593.09,192.00 593.68,192.03 594.28,192.06 594.88,192.09 595.47,192.12 596.07,192.15 596.66,192.17 597.26,192.20 597.86,192.23 598.45,192.26 599.05,192.29 599.64,192.31 600.24,192.34 600.84,192.37 601.43,192.39 602.03,192.42 602.62,192.44 603.22,192.47 603.82,192.49 604.41,192.52 605.01,192.54 605.60,192.56 606.20,192.59 606.80,192.61 607.39,192.63 607.99,192.65 608.58,192.68 609.18,192.70 609.78,192.72 610.37,192.74 610.97,192.76 611.56,192.78 612.16,192.80 612.76,192.82 613.35,192.84 613.95,192.86 614.54,192.87 615.14,192.89 615.74,192.91 616.33,192.93 616.93,192.94 617.52,192.96 618.12,192.98 618.72,192.99 619.31,193.01 619.91,193.02 620.50,193.04 621.10,193.05 621.70,193.07 622.29,193.08 622.89,193.09 623.48,193.11 624.08,193.12 624.68,193.13 625.27,193.15 625.87,193.16 626.46,193.17 627.06,193.18 627.66,193.19 628.25,193.20 628.85,193.21 629.44,193.22 630.04,193.23 630.64,193.24 631.23,193.25 631.83,193.26 632.42,193.27 633.02,193.28 633.62,193.29 634.21,193.30 634.81,193.31 635.40,193.31 636.00,193.32 636.60,193.33 637.19,193.34 637.79,193.34 638.38,193.35 638.98,193.36 639.58,193.36 640.17,193.37 640.77,193.37 641.36,193.38 641.96,193.39 642.56,193.39 643.15,193.40 643.75,193.40 644.34,193.41 644.94,193.41 645.54,193.42 646.13,193.42 646.73,193.43 647.32,193.43 647.92,193.43 648.52,193.44 649.11,193.44 649.71,193.45 650.30,193.45 650.90,193.45 651.50,193.46 652.09,193.46 652.69,193.46 653.28,193.46 653.88,193.47 654.48,193.47 655.07,193.47 655.67,193.48 656.26,193.48 656.86,193.48 657.46,193.48 658.05,193.49 658.65,193.49 659.24,193.49 659.84,193.49 660.44,193.49 661.03,193.50 661.63,193.50 662.22,193.50 662.82,193.50 663.42,193.50 664.01,193.51 664.61,193.51 665.20,193.51 665.80,193.51" fill="none" stroke="#fbab5e" stroke-width="1.4" stroke-linejoin="round" stroke-linecap="round" />
<polyline points="427.40,193.56 428.00,193.56 428.59,193.56 429.19,193.56 429.78,193.56 430.38,193.56 430.98,193.55 431.57,193.55 432.17,193.55 432.76,193.55 433.36,193.55 433.96,193.55 434.55,193.55 435.15,193.55 435.74,193.55 436.34,193.55 436.94,193.55 437.53,193.55 438.13,193.55 438.72,193.55 439.32,193.55 439.92,193.55 440.51,193.55 441.11,193.55 441.70,193.54 442.30,193.54 442.90,193.54 443.49,193.54 444.09,193.54 444.68,193.54 445.28,193.54 445.88,193.54 446.47,193.54 447.07,193.54 447.66,193.54 448.26,193.54 448.86,193.54 449.45,193.54 450.05,193.53 450.64,193.53 451.24,193.53 451.84,193.53 452.43,193.53 453.03,193.53 453.62,193.53 454.22,193.53 454.82,193.53 455.41,193.53 456.01,193.53 456.60,193.52 457.20,193.52 457.80,193.52 458.39,193.52 458.99,193.52 459.58,193.52 460.18,193.52 460.78,193.52 461.37,193.52 461.97,193.51 462.56,193.51 463.16,193.51 463.76,193.51 464.35,193.51 464.95,193.51 465.54,193.51 466.14,193.51 466.74,193.50 467.33,193.50 467.93,193.50 468.52,193.50 469.12,193.50 469.72,193.50 470.31,193.49 470.91,193.49 471.50,193.49 472.10,193.49 472.70,193.49 473.29,193.49 473.89,193.48 474.48,193.48 475.08,193.48 475.68,193.48 476.27,193.48 476.87,193.47 477.46,193.47 478.06,193.47 478.66,193.47 479.25,193.46 479.85,193.46 480.44,193.46 481.04,193.46 481.64,193.45 482.23,193.45 482.83,193.45 483.42,193.44 484.02,193.44 484.62,193.44 485.21,193.44 485.81,193.43 486.40,193.43 487.00,193.42 487.60,193.42 488.19,193.42 488.79,193.41 489.38,193.41 489.98,193.41 490.58,193.40 491.17,193.40 491.77,193.39 492.36,193.39 492.96,193.38 493.56,193.38 494.15,193.37 494.75,193.37 495.34,193.36 495.94,193.35 496.54,193.35 497.13,193.34 497.73,193.33 498.32,193.33 498.92,193.32 499.52,193.31 500.11,193.30 500.71,193.30 501.30,193.29 501.90,193.28 502.50,193.27 503.09,193.26 503.69,193.25 504.28,193.24 504.88,193.23 505.48,193.21 506.07,193.20 506.67,193.19 507.26,193.17 507.86,193.16 508.46,193.14 509.05,193.13 509.65,193.11 510.24,193.09 510.84,193.07 511.44,193.05 512.03,193.03 512.63,193.01 513.22,192.98 513.82,192.96 514.42,192.93 515.01,192.90 515.61,192.87 516.20,192.84 516.80,192.81 517.40,192.77 517.99,192.73 518.59,192.69 519.18,192.64 519.78,192.60 520.38,192.55 520.97,192.49 521.57,192.43 522.16,192.37 522.76,192.29 523.36,192.22 523.95,192.13 524.55,192.03 525.14,191.92 525.74,191.80 526.34,191.66 526.93,191.50 527.53,191.31 528.12,191.09 528.72,190.83 529.32,190.54 529.91,190.19 530.51,189.78 531.10,189.31 531.70,188.76 532.30,188.12 532.89,187.39 533.49,186.56 534.08,185.62 534.68,184.56 535.28,183.39 535.87,182.10 536.47,180.69 537.06,179.18 537.66,177.56 538.26,175.87 538.85,174.12 539.45,172.33 540.04,170.54 540.64,168.79 541.24,167.13 541.83,165.60 542.43,164.27 543.02,163.20 543.62,162.42 544.22,161.99 544.81,161.91 545.41,162.16 546.00,162.71 546.60,163.52 547.20,164.56 547.79,165.78 548.39,167.14 548.98,168.58 549.58,170.07 550.18,171.58 550.77,173.08 551.37,174.54 551.96,175.95 552.56,177.29 553.16,178.56 553.75,179.74 554.35,180.85 554.94,181.87 555.54,182.80 556.14,183.66 556.73,184.43 557.33,185.13 557.92,185.75 558.52,186.31 559.12,186.82 559.71,187.26 560.31,187.66 560.90,188.01 561.50,188.32 562.10,188.60 562.69,188.85 563.29,189.07 563.88,189.26 564.48,189.44 565.08,189.59 565.67,189.74 566.27,189.86 566.86,189.98 567.46,190.09 568.06,190.19 568.65,190.28 569.25,190.37 569.84,190.45 570.44,190.53 571.04,190.60 571.63,190.67 572.23,190.74 572.82,190.80 573.42,190.86 574.02,190.92 574.61,190.97 575.21,191.02 575.80,191.07 576.40,191.12 577.00,191.17 577.59,191.22 578.19,191.26 578.78,191.31 579.38,191.35 579.98,191.39 580.57,191.43 581.17,191.47 581.76,191.51 582.36,191.55 582.96,191.59 583.55,191.62 584.15,191.66 584.74,191.69 585.34,191.73 585.94,191.76 586.53,191.80 587.13,191.83 587.72,191.86 588.32,191.89 588.92,191.92 589.51,191.96 590.11,191.99 590.70,192.02 591.30,192.05 591.90,192.08 592.49,192.10 593.09,192.13 593.68,192.16 594.28,192.19 594.88,192.22 595.47,192.24 596.07,192.27 596.66,192.30 597.26,192.32 597.86,192.35 598.45,192.37 599.05,192.40 599.64,192.42 600.24,192.45 600.84,192.47 601.43,192.50 602.03,192.52 602.62,192.54 603.22,192.57 603.82,192.59 604.41,192.61 605.01,192.63 605.60,192.65 606.20,192.67 606.80,192.69 607.39,192.72 607.99,192.74 608.58,192.76 609.18,192.77 609.78,192.79 610.37,192.81 610.97,192.83 611.56,192.85 612.16,192.87 612.76,192.88 613.35,192.90 613.95,192.92 614.54,192.94 615.14,192.95 615.74,192.97 616.33,192.98 616.93,193.00 617.52,193.01 618.12,193.03 618.72,193.04 619.31,193.06 619.91,193.07 620.50,193.08 621.10,193.10 621.70,193.11 622.29,193.12 622.89,193.13 623.48,193.15 624.08,193.16 624.68,193.17 625.27,193.18 625.87,193.19 626.46,193.20 627.06,193.21 627.66,193.22 628.25,193.23 628.85,193.24 629.44,193.25 630.04,193.26 630.64,193.27 631.23,193.28 631.83,193.29 632.42,193.30 633.02,193.30 633.62,193.31 634.21,193.32 634.81,193.33 635.40,193.33 636.00,193.34 636.60,193.35 637.19,193.35 637.79,193.36 638.38,193.37 638.98,193.37 639.58,193.38 640.17,193.38 640.77,193.39 641.36,193.39 641.96,193.40 642.56,193.40 643.15,193.41 643.75,193.41 644.34,193.42 644.94,193.42 645.54,193.43 646.13,193.43 646.73,193.44 647.32,193.44 647.92,193.44 648.52,193.45 649.11,193.45 649.71,193.45 650.30,193.46 650.90,193.46 651.50,193.46 652.09,193.47 652.69,193.47 653.28,193.47 653.88,193.47 654.48,193.48 655.07,193.48 655.67,193.48 656.26,193.48 656.86,193.49 657.46,193.49 658.05,193.49 658.65,193.49 659.24,193.49 659.84,193.50 660.44,193.50 661.03,193.50 661.63,193.50 662.22,193.50 662.82,193.51 663.42,193.51 664.01,193.51 664.61,193.51 665.20,193.51 665.80,193.51" fill="none" stroke="#fdc874" stroke-width="1.4" stroke-linejoin="round" stroke-linecap="round" />
<polyline points="427.40,193.58 428.00,193.58 428.59,193.58 429.19,193.58 429.78,193.58 430.38,193.58 430.98,193.58 431.57,193.58 432.17,193.58 432.76,193.58 433.36,193.58 433.96,193.58 434.55,193.58 435.15,193.58 435.74,193.58 436.34,193.58 436.94,193.58 437.53,193.58 438.13,193.58 438.72,193.58 439.32,193.58 439.92,193.58 440.51,193.57 441.11,193.57 441.70,193.57 442.30,193.57 442.90,193.57 443.49,193.57 444.09,193.57 444.68,193.57 445.28,193.57 445.88,193.57 446.47,193.57 447.07,193.57 447.66,193.57 448.26,193.57 448.86,193.57 449.45,193.57 450.05,193.57 450.64,193.57 451.24,193.57 451.84,193.57 452.43,193.57 453.03,193.57 453.62,193.57 454.22,193.57 454.82,193.57 455.41,193.57 456.01,193.57 456.60,193.56 457.20,193.56 457.80,193.56 458.39,193.56 458.99,193.56 459.58,193.56 460.18,193.56 460.78,193.56 461.37,193.56 461.97,193.56 462.56,193.56 463.16,193.56 463.76,193.56 464.35,193.56 464.95,193.56 465.54,193.56 466.14,193.56 466.74,193.56 467.33,193.55 467.93,193.55 468.52,193.55 469.12,193.55 469.72,193.55 470.31,193.55 470.91,193.55 471.50,193.55 472.10,193.55 472.70,193.55 473.29,193.55 473.89,193.55 474.48,193.55 475.08,193.54 475.68,193.54 476.27,193.54 476.87,193.54 477.46,193.54 478.06,193.54 478.66,193.54 479.25,193.54 479.85,193.54 480.44,193.53 481.04,193.53 481.64,193.53 482.23,193.53 482.83,193.53 483.42,193.53 484.02,193.53 484.62,193.53 485.21,193.52 485.81,193.52 486.40,193.52 487.00,193.52 487.60,193.52 488.19,193.52 488.79,193.51 489.38,193.51 489.98,193.51 490.58,193.51 491.17,193.51 491.77,193.50 492.36,193.50 492.96,193.50 493.56,193.50 494.15,193.49 494.75,193.49 495.34,193.49 495.94,193.49 496.54,193.48 497.13,193.48 497.73,193.48 498.32,193.47 498.92,193.47 499.52,193.47 500.11,193.46 500.71,193.46 501.30,193.45 501.90,193.45 502.50,193.45 503.09,193.44 503.69,193.44 504.28,193.43 504.88,193.43 505.48,193.42 506.07,193.41 506.67,193.41 507.26,193.40 507.86,193.39 508.46,193.39 509.05,193.38 509.65,193.37 510.24,193.36 510.84,193.35 511.44,193.34 512.03,193.33 512.63,193.32 513.22,193.31 513.82,193.30 514.42,193.28 515.01,193.27 515.61,193.25 516.20,193.24 516.80,193.22 517.40,193.20 517.99,193.18 518.59,193.16 519.18,193.14 519.78,193.12 520.38,193.09 520.97,193.06 521.57,193.03 522.16,193.00 522.76,192.96 523.36,192.92 523.95,192.88 524.55,192.83 525.14,192.77 525.74,192.70 526.34,192.63 526.93,192.54 527.53,192.44 528.12,192.33 528.72,192.19 529.32,192.04 529.91,191.87 530.51,191.66 531.10,191.43 531.70,191.17 532.30,190.88 532.89,190.54 533.49,190.17 534.08,189.76 534.68,189.30 535.28,188.81 535.87,188.27 536.47,187.70 537.06,187.09 537.66,186.45 538.26,185.79 538.85,185.12 539.45,184.44 540.04,183.77 540.64,183.12 541.24,182.50 541.83,181.95 542.43,181.47 543.02,181.08 543.62,180.80 544.22,180.64 544.81,180.60 545.41,180.68 546.00,180.86 546.60,181.14 547.20,181.50 547.79,181.93 548.39,182.41 548.98,182.93 549.58,183.48 550.18,184.03 550.77,184.59 551.37,185.14 551.96,185.68 552.56,186.20 553.16,186.70 553.75,187.17 554.35,187.62 554.94,188.03 555.54,188.42 556.14,188.78 556.73,189.10 557.33,189.41 557.92,189.68 558.52,189.93 559.12,190.15 559.71,190.36 560.31,190.54 560.90,190.71 561.50,190.86 562.10,190.99 562.69,191.11 563.29,191.21 563.88,191.31 564.48,191.40 565.08,191.47 565.67,191.54 566.27,191.61 566.86,191.67 567.46,191.72 568.06,191.77 568.65,191.81 569.25,191.86 569.84,191.89 570.44,191.93 571.04,191.97 571.63,192.00 572.23,192.03 572.82,192.06 573.42,192.09 574.02,192.12 574.61,192.15 575.21,192.17 575.80,192.20 576.40,192.22 577.00,192.25 577.59,192.27 578.19,192.29 578.78,192.32 579.38,192.34 579.98,192.36 580.57,192.38 581.17,192.40 581.76,192.42 582.36,192.44 582.96,192.46 583.55,192.48 584.15,192.50 584.74,192.52 585.34,192.54 585.94,192.55 586.53,192.57 587.13,192.59 587.72,192.61 588.32,192.62 588.92,192.64 589.51,192.66 590.11,192.68 590.70,192.69 591.30,192.71 591.90,192.73 592.49,192.74 593.09,192.76 593.68,192.77 594.28,192.79 594.88,192.80 595.47,192.82 596.07,192.84 596.66,192.85 597.26,192.87 597.86,192.88 598.45,192.89 599.05,192.91 599.64,192.92 600.24,192.94 600.84,192.95 601.43,192.96 602.03,192.98 602.62,192.99 603.22,193.00 603.82,193.02 604.41,193.03 605.01,193.04 605.60,193.06 606.20,193.07 606.80,193.08 607.39,193.09 607.99,193.10 608.58,193.12 609.18,193.13 609.78,193.14 610.37,193.15 610.97,193.16 611.56,193.17 612.16,193.18 612.76,193.19 613.35,193.20 613.95,193.21 614.54,193.22 615.14,193.23 615.74,193.24 616.33,193.25 616.93,193.26 617.52,193.27 618.12,193.28 618.72,193.28 619.31,193.29 619.91,193.30 620.50,193.31 621.10,193.32 621.70,193.32 622.29,193.33 622.89,193.34 623.48,193.35 624.08,193.35 624.68,193.36 625.27,193.37 625.87,193.37 626.46,193.38 627.06,193.38 627.66,193.39 628.25,193.40 628.85,193.40 629.44,193.41 630.04,193.41 630.64,193.42 631.23,193.42 631.83,193.43 632.42,193.43 633.02,193.44 633.62,193.44 634.21,193.45 634.81,193.45 635.40,193.45 636.00,193.46 636.60,193.46 637.19,193.47 637.79,193.47 638.38,193.47 638.98,193.48 639.58,193.48 640.17,193.48 640.77,193.49 641.36,193.49 641.96,193.49 642.56,193.50 643.15,193.50 643.75,193.50 644.34,193.50 644.94,193.51 645.54,193.51 646.13,193.51 646.73,193.51 647.32,193.52 647.92,193.52 648.52,193.52 649.11,193.52 649.71,193.52 650.30,193.53 650.90,193.53 651.50,193.53 652.09,193.53 652.69,193.53 653.28,193.53 653.88,193.54 654.48,193.54 655.07,193.54 655.67,193.54 656.26,193.54 656.86,193.54 657.46,193.54 658.05,193.55 658.65,193.55 659.24,193.55 659.84,193.55 660.44,193.55 661.03,193.55 661.63,193.55 662.22,193.55 662.82,193.55 663.42,193.55 664.01,193.56 664.61,193.56 665.20,193.56 665.80,193.56" fill="none" stroke="#fee79a" stroke-width="1.4" stroke-linejoin="round" stroke-linecap="round" />
<polyline points="427.40,193.59 428.00,193.59 428.59,193.59 429.19,193.59 429.78,193.59 430.38,193.59 430.98,193.59 431.57,193.59 432.17,193.59 432.76,193.59 433.36,193.59 433.96,193.59 434.55,193.59 435.15,193.59 435.74,193.59 436.34,193.59 436.94,193.59 437.53,193.59 438.13,193.59 438.72,193.59 439.32,193.59 439.92,193.59 440.51,193.59 441.11,193.59 441.70,193.59 442.30,193.59 442.90,193.59 443.49,193.59 444.09,193.59 444.68,193.59 445.28,193.59 445.88,193.59 446.47,193.59 447.07,193.59 447.66,193.59 448.26,193.59 448.86,193.59 449.45,193.59 450.05,193.59 450.64,193.59 451.24,193.59 451.84,193.59 452.43,193.59 453.03,193.59 453.62,193.59 454.22,193.59 454.82,193.58 455.41,193.58 456.01,193.58 456.60,193.58 457.20,193.58 457.80,193.58 458.39,193.58 458.99,193.58 459.58,193.58 460.18,193.58 460.78,193.58 461.37,193.58 461.97,193.58 462.56,193.58 463.16,193.58 463.76,193.58 464.35,193.58 464.95,193.58 465.54,193.58 466.14,193.58 466.74,193.58 467.33,193.58 467.93,193.58 468.52,193.58 469.12,193.58 469.72,193.58 470.31,193.58 470.91,193.58 471.50,193.58 472.10,193.58 472.70,193.58 473.29,193.58 473.89,193.58 474.48,193.58 475.08,193.57 475.68,193.57 476.27,193.57 476.87,193.57 477.46,193.57 478.06,193.57 478.66,193.57 479.25,193.57 479.85,193.57 480.44,193.57 481.04,193.57 481.64,193.57 482.23,193.57 482.83,193.57 483.42,193.57 484.02,193.57 484.62,193.57 485.21,193.57 485.81,193.57 486.40,193.56 487.00,193.56 487.60,193.56 488.19,193.56 488.79,193.56 489.38,193.56 489.98,193.56 490.58,193.56 491.17,193.56 491.77,193.56 492.36,193.56 492.96,193.55 493.56,193.55 494.15,193.55 494.75,193.55 495.34,193.55 495.94,193.55 496.54,193.55 497.13,193.55 497.73,193.54 498.32,193.54 498.92,193.54 499.52,193.54 500.11,193.54 500.71,193.54 501.30,193.53 501.90,193.53 502.50,193.53 503.09,193.53 503.69,193.53 504.28,193.52 504.88,193.52 505.48,193.52 506.07,193.52 506.67,193.51 507.26,193.51 507.86,193.51 508.46,193.50 509.05,193.50 509.65,193.50 510.24,193.49 510.84,193.49 511.44,193.48 512.03,193.48 512.63,193.47 513.22,193.47 513.82,193.46 514.42,193.46 515.01,193.45 515.61,193.44 516.20,193.44 516.80,193.43 517.40,193.42 517.99,193.41 518.59,193.40 519.18,193.39 519.78,193.38 520.38,193.37 520.97,193.35 521.57,193.33 522.16,193.32 522.76,193.30 523.36,193.27 523.95,193.25 524.55,193.22 525.14,193.19 525.74,193.15 526.34,193.11 526.93,193.06 527.53,193.01 528.12,192.95 528.72,192.89 529.32,192.81 529.91,192.73 530.51,192.64 531.10,192.54 531.70,192.43 532.30,192.31 532.89,192.18 533.49,192.03 534.08,191.88 534.68,191.72 535.28,191.54 535.87,191.36 536.47,191.17 537.06,190.98 537.66,190.78 538.26,190.58 538.85,190.37 539.45,190.17 540.04,189.98 540.64,189.80 541.24,189.62 541.83,189.47 542.43,189.34 543.02,189.23 543.62,189.16 544.22,189.11 544.81,189.10 545.41,189.11 546.00,189.16 546.60,189.22 547.20,189.31 547.79,189.42 548.39,189.55 548.98,189.69 549.58,189.83 550.18,189.99 550.77,190.15 551.37,190.31 551.96,190.47 552.56,190.63 553.16,190.78 553.75,190.93 554.35,191.08 554.94,191.22 555.54,191.35 556.14,191.47 556.73,191.59 557.33,191.70 557.92,191.80 558.52,191.90 559.12,191.99 559.71,192.07 560.31,192.15 560.90,192.22 561.50,192.29 562.10,192.35 562.69,192.40 563.29,192.45 563.88,192.50 564.48,192.54 565.08,192.58 565.67,192.61 566.27,192.64 566.86,192.67 567.46,192.70 568.06,192.72 568.65,192.74 569.25,192.77 569.84,192.78 570.44,192.80 571.04,192.82 571.63,192.84 572.23,192.85 572.82,192.86 573.42,192.88 574.02,192.89 574.61,192.90 575.21,192.92 575.80,192.93 576.40,192.94 577.00,192.95 577.59,192.96 578.19,192.97 578.78,192.98 579.38,192.99 579.98,193.00 580.57,193.01 581.17,193.02 581.76,193.03 582.36,193.04 582.96,193.05 583.55,193.06 584.15,193.07 584.74,193.08 585.34,193.08 585.94,193.09 586.53,193.10 587.13,193.11 587.72,193.12 588.32,193.13 588.92,193.14 589.51,193.14 590.11,193.15 590.70,193.16 591.30,193.17 591.90,193.18 592.49,193.18 593.09,193.19 593.68,193.20 594.28,193.21 594.88,193.21 595.47,193.22 596.07,193.23 596.66,193.24 597.26,193.24 597.86,193.25 598.45,193.26 599.05,193.26 599.64,193.27 600.24,193.28 600.84,193.28 601.43,193.29 602.03,193.30 602.62,193.30 603.22,193.31 603.82,193.32 604.41,193.32 605.01,193.33 605.60,193.33 606.20,193.34 606.80,193.35 607.39,193.35 607.99,193.36 608.58,193.36 609.18,193.37 609.78,193.38 610.37,193.38 610.97,193.39 611.56,193.39 612.16,193.40 612.76,193.40 613.35,193.41 613.95,193.41 614.54,193.42 615.14,193.42 615.74,193.43 616.33,193.43 616.93,193.43 617.52,193.44 618.12,193.44 618.72,193.45 619.31,193.45 619.91,193.45 620.50,193.46 621.10,193.46 621.70,193.47 622.29,193.47 622.89,193.47 623.48,193.48 624.08,193.48 624.68,193.48 625.27,193.49 625.87,193.49 626.46,193.49 627.06,193.50 627.66,193.50 628.25,193.50 628.85,193.50 629.44,193.51 630.04,193.51 630.64,193.51 631.23,193.52 631.83,193.52 632.42,193.52 633.02,193.52 633.62,193.52 634.21,193.53 634.81,193.53 635.40,193.53 636.00,193.53 636.60,193.53 637.19,193.54 637.79,193.54 638.38,193.54 638.98,193.54 639.58,193.54 640.17,193.54 640.77,193.55 641.36,193.55 641.96,193.55 642.56,193.55 643.15,193.55 643.75,193.55 644.34,193.55 644.94,193.56 645.54,193.56 646.13,193.56 646.73,193.56 647.32,193.56 647.92,193.56 648.52,193.56 649.11,193.56 649.71,193.56 650.30,193.57 650.90,193.57 651.50,193.57 652.09,193.57 652.69,193.57 653.28,193.57 653.88,193.57 654.48,193.57 655.07,193.57 655.67,193.57 656.26,193.57 656.86,193.57 657.46,193.57 658.05,193.57 658.65,193.58 659.24,193.58 659.84,193.58 660.44,193.58 661.03,193.58 661.63,193.58 662.22,193.58 662.82,193.58 663.42,193.58 664.01,193.58 664.61,193.58 665.20,193.58 665.80,193.58" fill="none" stroke="#d5ee88" stroke-width="1.4" stroke-linejoin="round" stroke-linecap="round" />
<polyline points="427.40,193.60 428.00,193.60 428.59,193.60 429.19,193.60 429.78,193.60 430.38,193.60 430.98,193.60 431.57,193.60 432.17,193.60 432.76,193.60 433.36,193.60 433.96,193.60 434.55,193.60 435.15,193.59 435.74,193.59 436.34,193.59 436.94,193.59 437.53,193.59 438.13,193.59 438.72,193.59 439.32,193.59 439.92,193.59 440.51,193.59 441.11,193.59 441.70,193.59 442.30,193.59 442.90,193.59 443.49,193.59 444.09,193.59 444.68,193.59 445.28,193.59 445.88,193.59 446.47,193.59 447.07,193.59 447.66,193.59 448.26,193.59 448.86,193.59 449.45,193.59 450.05,193.59 450.64,193.59 451.24,193.59 451.84,193.59 452.43,193.59 453.03,193.59 453.62,193.59 454.22,193.59 454.82,193.59 455.41,193.59 456.01,193.59 456.60,193.59 457.20,193.59 457.80,193.59 458.39,193.59 458.99,193.59 459.58,193.59 460.18,193.59 460.78,193.59 461.37,193.59 461.97,193.59 462.56,193.59 463.16,193.59 463.76,193.59 464.35,193.59 464.95,193.59 465.54,193.59 466.14,193.59 466.74,193.59 467.33,193.59 467.93,193.59 468.52,193.59 469.12,193.59 469.72,193.59 470.31,193.59 470.91,193.59 471.50,193.59 472.10,193.59 472.70,193.59 473.29,193.59 473.89,193.59 474.48,193.59 475.08,193.59 475.68,193.59 476.27,193.59 476.87,193.59 477.46,193.59 478.06,193.59 478.66,193.59 479.25,193.59 479.85,193.59 480.44,193.59 481.04,193.59 481.64,193.59 482.23,193.58 482.83,193.58 483.42,193.58 484.02,193.58 484.62,193.58 485.21,193.58 485.81,193.58 486.40,193.58 487.00,193.58 487.60,193.58 488.19,193.58 488.79,193.58 489.38,193.58 489.98,193.58 490.58,193.58 491.17,193.58 491.77,193.58 492.36,193.58 492.96,193.58 493.56,193.58 494.15,193.58 494.75,193.58 495.34,193.58 495.94,193.57 496.54,193.57 497.13,193.57 497.73,193.57 498.32,193.57 498.92,193.57 499.52,193.57 500.11,193.57 500.71,193.57 501.30,193.57 501.90,193.57 502.50,193.57 503.09,193.56 503.69,193.56 504.28,193.56 504.88,193.56 505.48,193.56 506.07,193.56 506.67,193.56 507.26,193.56 507.86,193.55 508.46,193.55 509.05,193.55 509.65,193.55 510.24,193.55 510.84,193.54 511.44,193.54 512.03,193.54 512.63,193.54 513.22,193.53 513.82,193.53 514.42,193.53 515.01,193.52 515.61,193.52 516.20,193.52 516.80,193.51 517.40,193.51 517.99,193.50 518.59,193.50 519.18,193.49 519.78,193.48 520.38,193.47 520.97,193.47 521.57,193.46 522.16,193.45 522.76,193.43 523.36,193.42 523.95,193.41 524.55,193.39 525.14,193.37 525.74,193.35 526.34,193.33 526.93,193.30 527.53,193.28 528.12,193.25 528.72,193.21 529.32,193.18 529.91,193.14 530.51,193.10 531.10,193.05 531.70,193.00 532.30,192.95 532.89,192.90 533.49,192.84 534.08,192.78 534.68,192.71 535.28,192.65 535.87,192.58 536.47,192.51 537.06,192.44 537.66,192.37 538.26,192.30 538.85,192.23 539.45,192.16 540.04,192.09 540.64,192.03 541.24,191.98 541.83,191.93 542.43,191.88 543.02,191.85 543.62,191.82 544.22,191.81 544.81,191.80 545.41,191.80 546.00,191.81 546.60,191.83 547.20,191.85 547.79,191.88 548.39,191.92 548.98,191.96 549.58,192.01 550.18,192.05 550.77,192.10 551.37,192.16 551.96,192.21 552.56,192.26 553.16,192.31 553.75,192.37 554.35,192.42 554.94,192.47 555.54,192.51 556.14,192.56 556.73,192.61 557.33,192.65 557.92,192.69 558.52,192.73 559.12,192.77 559.71,192.80 560.31,192.83 560.90,192.87 561.50,192.89 562.10,192.92 562.69,192.95 563.29,192.97 563.88,192.99 564.48,193.01 565.08,193.03 565.67,193.05 566.27,193.07 566.86,193.08 567.46,193.10 568.06,193.11 568.65,193.12 569.25,193.13 569.84,193.14 570.44,193.15 571.04,193.16 571.63,193.17 572.23,193.18 572.82,193.19 573.42,193.19 574.02,193.20 574.61,193.21 575.21,193.21 575.80,193.22 576.40,193.23 577.00,193.23 577.59,193.24 578.19,193.24 578.78,193.25 579.38,193.26 579.98,193.26 580.57,193.27 581.17,193.27 581.76,193.28 582.36,193.28 582.96,193.29 583.55,193.29 584.15,193.30 584.74,193.30 585.34,193.31 585.94,193.31 586.53,193.32 587.13,193.32 587.72,193.32 588.32,193.33 588.92,193.33 589.51,193.34 590.11,193.34 590.70,193.35 591.30,193.35 591.90,193.36 592.49,193.36 593.09,193.37 593.68,193.37 594.28,193.37 594.88,193.38 595.47,193.38 596.07,193.39 596.66,193.39 597.26,193.39 597.86,193.40 598.45,193.40 599.05,193.41 599.64,193.41 600.24,193.41 600.84,193.42 601.43,193.42 602.03,193.43 602.62,193.43 603.22,193.43 603.82,193.44 604.41,193.44 605.01,193.44 605.60,193.45 606.20,193.45 606.80,193.45 607.39,193.46 607.99,193.46 608.58,193.46 609.18,193.47 609.78,193.47 610.37,193.47 610.97,193.48 611.56,193.48 612.16,193.48 612.76,193.49 613.35,193.49 613.95,193.49 614.54,193.49 615.14,193.50 615.74,193.50 616.33,193.50 616.93,193.51 617.52,193.51 618.12,193.51 618.72,193.51 619.31,193.51 619.91,193.52 620.50,193.52 621.10,193.52 621.70,193.52 622.29,193.53 622.89,193.53 623.48,193.53 624.08,193.53 624.68,193.53 625.27,193.54 625.87,193.54 626.46,193.54 627.06,193.54 627.66,193.54 628.25,193.54 628.85,193.55 629.44,193.55 630.04,193.55 630.64,193.55 631.23,193.55 631.83,193.55 632.42,193.56 633.02,193.56 633.62,193.56 634.21,193.56 634.81,193.56 635.40,193.56 636.00,193.56 636.60,193.56 637.19,193.56 637.79,193.57 638.38,193.57 638.98,193.57 639.58,193.57 640.17,193.57 640.77,193.57 641.36,193.57 641.96,193.57 642.56,193.57 643.15,193.57 643.75,193.57 644.34,193.58 644.94,193.58 645.54,193.58 646.13,193.58 646.73,193.58 647.32,193.58 647.92,193.58 648.52,193.58 649.11,193.58 649.71,193.58 650.30,193.58 650.90,193.58 651.50,193.58 652.09,193.58 652.69,193.58 653.28,193.58 653.88,193.58 654.48,193.58 655.07,193.59 655.67,193.59 656.26,193.59 656.86,193.59 657.46,193.59 658.05,193.59 658.65,193.59 659.24,193.59 659.84,193.59 660.44,193.59 661.03,193.59 661.63,193.59 662.22,193.59 662.82,193.59 663.42,193.59 664.01,193.59 664.61,193.59 665.20,193.59 665.80,193.59" fill="none" stroke="#a2d768" stroke-width="1.4" stroke-linejoin="round" stroke-linecap="round" />
<polyline points="427.40,193.60 428.00,193.60 428.59,193.60 429.19,193.60 429.78,193.60 430.38,193.60 430.98,193.60 431.57,193.60 432.17,193.60 432.76,193.60 433.36,193.60 433.96,193.60 434.55,193.60 435.15,193.60 435.74,193.60 436.34,193.60 436.94,193.60 437.53,193.60 438.13,193.60 438.72,193.60 439.32,193.60 439.92,193.60 440.51,193.60 441.11,193.60 441.70,193.60 442.30,193.60 442.90,193.60 443.49,193.60 444.09,193.60 444.68,193.60 445.28,193.60 445.88,193.60 446.47,193.60 447.07,193.60 447.66,193.60 448.26,193.60 448.86,193.60 449.45,193.60 450.05,193.60 450.64,193.60 451.24,193.60 451.84,193.60 452.43,193.60 453.03,193.60 453.62,193.60 454.22,193.60 454.82,193.60 455.41,193.60 456.01,193.60 456.60,193.60 457.20,193.60 457.80,193.60 458.39,193.60 458.99,193.60 459.58,193.60 460.18,193.60 460.78,193.60 461.37,193.60 461.97,193.60 462.56,193.60 463.16,193.60 463.76,193.60 464.35,193.60 464.95,193.60 465.54,193.60 466.14,193.60 466.74,193.60 467.33,193.60 467.93,193.60 468.52,193.60 469.12,193.60 469.72,193.60 470.31,193.60 470.91,193.60 471.50,193.60 472.10,193.60 472.70,193.60 473.29,193.60 473.89,193.60 474.48,193.60 475.08,193.60 475.68,193.60 476.27,193.60 476.87,193.60 477.46,193.60 478.06,193.60 478.66,193.60 479.25,193.60 479.85,193.60 480.44,193.60 481.04,193.59 481.64,193.59 482.23,193.59 482.83,193.59 483.42,193.59 484.02,193.59 484.62,193.59 485.21,193.59 485.81,193.59 486.40,193.59 487.00,193.59 487.60,193.59 488.19,193.59 488.79,193.59 489.38,193.59 489.98,193.59 490.58,193.59 491.17,193.59 491.77,193.59 492.36,193.59 492.96,193.59 493.56,193.59 494.15,193.59 494.75,193.59 495.34,193.59 495.94,193.59 496.54,193.59 497.13,193.59 497.73,193.59 498.32,193.59 498.92,193.59 499.52,193.59 500.11,193.59 500.71,193.59 501.30,193.59 501.90,193.59 502.50,193.59 503.09,193.59 503.69,193.59 504.28,193.59 504.88,193.59 505.48,193.59 506.07,193.59 506.67,193.59 507.26,193.59 507.86,193.59 508.46,193.59 509.05,193.58 509.65,193.58 510.24,193.58 510.84,193.58 511.44,193.58 512.03,193.58 512.63,193.58 513.22,193.58 513.82,193.58 514.42,193.58 515.01,193.58 515.61,193.58 516.20,193.57 516.80,193.57 517.40,193.57 517.99,193.57 518.59,193.57 519.18,193.57 519.78,193.56 520.38,193.56 520.97,193.56 521.57,193.55 522.16,193.55 522.76,193.55 523.36,193.54 523.95,193.54 524.55,193.53 525.14,193.53 525.74,193.52 526.34,193.51 526.93,193.51 527.53,193.50 528.12,193.49 528.72,193.48 529.32,193.47 529.91,193.46 530.51,193.45 531.10,193.44 531.70,193.43 532.30,193.42 532.89,193.41 533.49,193.39 534.08,193.38 534.68,193.37 535.28,193.35 535.87,193.34 536.47,193.32 537.06,193.31 537.66,193.30 538.26,193.28 538.85,193.27 539.45,193.26 540.04,193.25 540.64,193.24 541.24,193.23 541.83,193.22 542.43,193.21 543.02,193.21 543.62,193.20 544.22,193.20 544.81,193.20 545.41,193.20 546.00,193.20 546.60,193.21 547.20,193.21 547.79,193.22 548.39,193.23 548.98,193.24 549.58,193.25 550.18,193.26 550.77,193.27 551.37,193.28 551.96,193.29 552.56,193.30 553.16,193.32 553.75,193.33 554.35,193.34 554.94,193.35 555.54,193.36 556.14,193.38 556.73,193.39 557.33,193.40 557.92,193.41 558.52,193.42 559.12,193.43 559.71,193.44 560.31,193.45 560.90,193.46 561.50,193.46 562.10,193.47 562.69,193.48 563.29,193.49 563.88,193.49 564.48,193.50 565.08,193.50 565.67,193.51 566.27,193.52 566.86,193.52 567.46,193.52 568.06,193.53 568.65,193.53 569.25,193.54 569.84,193.54 570.44,193.54 571.04,193.55 571.63,193.55 572.23,193.55 572.82,193.55 573.42,193.56 574.02,193.56 574.61,193.56 575.21,193.56 575.80,193.56 576.40,193.56 577.00,193.57 577.59,193.57 578.19,193.57 578.78,193.57 579.38,193.57 579.98,193.57 580.57,193.57 581.17,193.57 581.76,193.57 582.36,193.57 582.96,193.58 583.55,193.58 584.15,193.58 584.74,193.58 585.34,193.58 585.94,193.58 586.53,193.58 587.13,193.58 587.72,193.58 588.32,193.58 588.92,193.58 589.51,193.58 590.11,193.58 590.70,193.58 591.30,193.58 591.90,193.58 592.49,193.58 593.09,193.58 593.68,193.58 594.28,193.58 594.88,193.59 595.47,193.59 596.07,193.59 596.66,193.59 597.26,193.59 597.86,193.59 598.45,193.59 599.05,193.59 599.64,193.59 600.24,193.59 600.84,193.59 601.43,193.59 602.03,193.59 602.62,193.59 603.22,193.59 603.82,193.59 604.41,193.59 605.01,193.59 605.60,193.59 606.20,193.59 606.80,193.59 607.39,193.59 607.99,193.59 608.58,193.59 609.18,193.59 609.78,193.59 610.37,193.59 610.97,193.59 611.56,193.59 612.16,193.59 612.76,193.59 613.35,193.59 613.95,193.59 614.54,193.59 615.14,193.59 615.74,193.59 616.33,193.59 616.93,193.59 617.52,193.59 618.12,193.59 618.72,193.59 619.31,193.59 619.91,193.59 620.50,193.59 621.10,193.59 621.70,193.59 622.29,193.59 622.89,193.59 623.48,193.59 624.08,193.59 624.68,193.59 625.27,193.59 625.87,193.59 626.46,193.59 627.06,193.59 627.66,193.59 628.25,193.59 628.85,193.59 629.44,193.59 630.04,193.59 630.64,193.59 631.23,193.59 631.83,193.59 632.42,193.59 633.02,193.60 633.62,193.60 634.21,193.60 634.81,193.60 635.40,193.60 636.00,193.60 636.60,193.60 637.19,193.60 637.79,193.60 638.38,193.60 638.98,193.60 639.58,193.60 640.17,193.60 640.77,193.60 641.36,193.60 641.96,193.60 642.56,193.60 643.15,193.60 643.75,193.60 644.34,193.60 644.94,193.60 645.54,193.60 646.13,193.60 646.73,193.60 647.32,193.60 647.92,193.60 648.52,193.60 649.11,193.60 649.71,193.60 650.30,193.60 650.90,193.60 651.50,193.60 652.09,193.60 652.69,193.60 653.28,193.60 653.88,193.60 654.48,193.60 655.07,193.60 655.67,193.60 656.26,193.60 656.86,193.60 657.46,193.60 658.05,193.60 658.65,193.60 659.24,193.60 659.84,193.60 660.44,193.60 661.03,193.60 661.63,193.60 662.22,193.60 662.82,193.60 663.42,193.60 664.01,193.60 664.61,193.60 665.20,193.60 665.80,193.60" fill="none" stroke="#2a9a52" stroke-width="1.8" stroke-linejoin="round" stroke-linecap="round" />
<text font-size="10.3" text-anchor="start" fill="#000" transform="translate(582.20 38.80) scale(1.06 1)" >2.83 µJ cm<tspan dy="-5.1" font-size="7.8">−2</tspan></text>
<text font-size="10.3" text-anchor="start" fill="#000" transform="translate(583.90 174.10) scale(1.06 1)" >0.16 µJ cm<tspan dy="-5.1" font-size="7.8">−2</tspan></text>
<line x1="588.20" y1="58.00" x2="588.20" y2="159.00" stroke="#222" stroke-width="1.2" />
<polygon points="588.2,43.5 584.1,59 592.3,59" fill="#000"/>
<text font-size="15.5" text-anchor="start" fill="#000" font-weight="bold" transform="translate(-0.30 269.00) scale(1.06 1)" >c</text>
<line x1="69.00" y1="264.40" x2="69.00" y2="456.80" stroke="#000" stroke-width="1" />
<line x1="68.50" y1="456.30" x2="308.50" y2="456.30" stroke="#000" stroke-width="1" />
<line x1="65.40" y1="456.30" x2="69.00" y2="456.30" stroke="#000" stroke-width="1" />
<line x1="67.20" y1="429.00" x2="69.00" y2="429.00" stroke="#000" stroke-width="0.8" />
<line x1="67.20" y1="413.03" x2="69.00" y2="413.03" stroke="#000" stroke-width="0.8" />
<line x1="67.20" y1="401.69" x2="69.00" y2="401.69" stroke="#000" stroke-width="0.8" />
<line x1="67.20" y1="392.90" x2="69.00" y2="392.90" stroke="#000" stroke-width="0.8" />
<line x1="67.20" y1="385.72" x2="69.00" y2="385.72" stroke="#000" stroke-width="0.8" />
<line x1="67.20" y1="379.65" x2="69.00" y2="379.65" stroke="#000" stroke-width="0.8" />
<line x1="67.20" y1="374.39" x2="69.00" y2="374.39" stroke="#000" stroke-width="0.8" />
<line x1="67.20" y1="369.75" x2="69.00" y2="369.75" stroke="#000" stroke-width="0.8" />
<line x1="65.40" y1="365.60" x2="69.00" y2="365.60" stroke="#000" stroke-width="1" />
<line x1="67.20" y1="338.30" x2="69.00" y2="338.30" stroke="#000" stroke-width="0.8" />
<line x1="67.20" y1="322.33" x2="69.00" y2="322.33" stroke="#000" stroke-width="0.8" />
<line x1="67.20" y1="310.99" x2="69.00" y2="310.99" stroke="#000" stroke-width="0.8" />
<line x1="67.20" y1="302.20" x2="69.00" y2="302.20" stroke="#000" stroke-width="0.8" />
<line x1="67.20" y1="295.02" x2="69.00" y2="295.02" stroke="#000" stroke-width="0.8" />
<line x1="67.20" y1="288.95" x2="69.00" y2="288.95" stroke="#000" stroke-width="0.8" />
<line x1="67.20" y1="283.69" x2="69.00" y2="283.69" stroke="#000" stroke-width="0.8" />
<line x1="67.20" y1="279.05" x2="69.00" y2="279.05" stroke="#000" stroke-width="0.8" />
<line x1="65.40" y1="274.90" x2="69.00" y2="274.90" stroke="#000" stroke-width="1" />
<text font-size="10.3" text-anchor="end" fill="#000" transform="translate(58.80 279.40) scale(1.06 1)" >1</text>
<text font-size="10.3" text-anchor="end" fill="#000" transform="translate(58.80 370.10) scale(1.06 1)" >0.1</text>
<text font-size="10.3" text-anchor="end" fill="#000" transform="translate(58.80 460.80) scale(1.06 1)" >0.01</text>
<line x1="90.80" y1="456.30" x2="90.80" y2="459.70" stroke="#000" stroke-width="1" />
<text font-size="10.3" text-anchor="middle" fill="#000" transform="translate(90.80 473.80) scale(1.06 1)" >0.0</text>
<line x1="134.20" y1="456.30" x2="134.20" y2="459.70" stroke="#000" stroke-width="1" />
<text font-size="10.3" text-anchor="middle" fill="#000" transform="translate(134.20 473.80) scale(1.06 1)" >0.1</text>
<line x1="177.60" y1="456.30" x2="177.60" y2="459.70" stroke="#000" stroke-width="1" />
<text font-size="10.3" text-anchor="middle" fill="#000" transform="translate(177.60 473.80) scale(1.06 1)" >0.2</text>
<line x1="221.00" y1="456.30" x2="221.00" y2="459.70" stroke="#000" stroke-width="1" />
<text font-size="10.3" text-anchor="middle" fill="#000" transform="translate(221.00 473.80) scale(1.06 1)" >0.3</text>
<line x1="264.40" y1="456.30" x2="264.40" y2="459.70" stroke="#000" stroke-width="1" />
<text font-size="10.3" text-anchor="middle" fill="#000" transform="translate(264.40 473.80) scale(1.06 1)" >0.4</text>
<line x1="307.80" y1="456.30" x2="307.80" y2="459.70" stroke="#000" stroke-width="1" />
<text font-size="10.3" text-anchor="middle" fill="#000" transform="translate(307.80 473.80) scale(1.06 1)" >0.5</text>
<line x1="69.10" y1="456.30" x2="69.10" y2="458.10" stroke="#000" stroke-width="0.8" />
<line x1="112.50" y1="456.30" x2="112.50" y2="458.10" stroke="#000" stroke-width="0.8" />
<line x1="155.90" y1="456.30" x2="155.90" y2="458.10" stroke="#000" stroke-width="0.8" />
<line x1="199.30" y1="456.30" x2="199.30" y2="458.10" stroke="#000" stroke-width="0.8" />
<line x1="242.70" y1="456.30" x2="242.70" y2="458.10" stroke="#000" stroke-width="0.8" />
<line x1="286.10" y1="456.30" x2="286.10" y2="458.10" stroke="#000" stroke-width="0.8" />
<text font-size="10.5" text-anchor="middle" fill="#000" transform="translate(188.50 490.50) scale(1.06 1)" >Distance (cm)</text>
<text font-size="10.8" text-anchor="middle" fill="#000" transform="translate(28.50 358.80) scale(1.06 1) rotate(-90)" >Intensity (a.u.)</text>
<circle cx="90.40" cy="267.60" r="2.15" fill="#bd70f7"/>
<circle cx="94.76" cy="271.00" r="2.15" fill="#bd70f7"/>
<circle cx="99.11" cy="281.10" r="2.15" fill="#bd70f7"/>
<circle cx="103.47" cy="288.10" r="2.15" fill="#bd70f7"/>
<circle cx="107.82" cy="293.60" r="2.15" fill="#bd70f7"/>
<circle cx="112.18" cy="295.50" r="2.15" fill="#bd70f7"/>
<circle cx="116.53" cy="298.70" r="2.15" fill="#bd70f7"/>
<circle cx="120.89" cy="304.60" r="2.15" fill="#bd70f7"/>
<circle cx="125.24" cy="308.80" r="2.15" fill="#bd70f7"/>
<circle cx="129.60" cy="312.20" r="2.15" fill="#bd70f7"/>
<circle cx="133.95" cy="312.40" r="2.15" fill="#bd70f7"/>
<circle cx="138.31" cy="316.90" r="2.15" fill="#bd70f7"/>
<circle cx="142.66" cy="320.40" r="2.15" fill="#bd70f7"/>
<circle cx="147.02" cy="322.80" r="2.15" fill="#bd70f7"/>
<circle cx="151.37" cy="326.40" r="2.15" fill="#bd70f7"/>
<circle cx="155.73" cy="329.80" r="2.15" fill="#bd70f7"/>
<circle cx="160.08" cy="335.00" r="2.15" fill="#bd70f7"/>
<circle cx="164.44" cy="337.80" r="2.15" fill="#bd70f7"/>
<circle cx="168.79" cy="343.50" r="2.15" fill="#bd70f7"/>
<circle cx="173.15" cy="343.90" r="2.15" fill="#bd70f7"/>
<circle cx="177.50" cy="347.30" r="2.15" fill="#bd70f7"/>
<circle cx="181.86" cy="350.70" r="2.15" fill="#bd70f7"/>
<circle cx="186.21" cy="354.30" r="2.15" fill="#bd70f7"/>
<circle cx="190.56" cy="357.70" r="2.15" fill="#bd70f7"/>
<circle cx="194.92" cy="360.60" r="2.15" fill="#bd70f7"/>
<circle cx="199.28" cy="365.00" r="2.15" fill="#bd70f7"/>
<line x1="85.30" y1="274.80" x2="198.60" y2="364.40" stroke="#000" stroke-width="1.7" />
<rect x="158.24" y="450.80" width="4.0" height="4.0" fill="#6a9bd6"/>
<rect x="162.58" y="446.60" width="4.0" height="4.0" fill="#6a9bd6"/>
<rect x="166.92" y="440.00" width="4.0" height="4.0" fill="#6a9bd6"/>
<rect x="171.26" y="433.80" width="4.0" height="4.0" fill="#6a9bd6"/>
<rect x="175.60" y="425.00" width="4.0" height="4.0" fill="#6a9bd6"/>
<rect x="179.94" y="416.00" width="4.0" height="4.0" fill="#6a9bd6"/>
<rect x="184.28" y="407.60" width="4.0" height="4.0" fill="#6a9bd6"/>
<rect x="188.62" y="398.90" width="4.0" height="4.0" fill="#6a9bd6"/>
<rect x="197.30" y="384.20" width="4.0" height="4.0" fill="#6a9bd6"/>
<rect x="205.98" y="352.90" width="4.0" height="4.0" fill="#6a9bd6"/>
<rect x="214.66" y="340.90" width="4.0" height="4.0" fill="#6a9bd6"/>
<rect x="223.34" y="330.10" width="4.0" height="4.0" fill="#6a9bd6"/>
<rect x="232.02" y="319.80" width="4.0" height="4.0" fill="#6a9bd6"/>
<rect x="240.70" y="310.70" width="4.0" height="4.0" fill="#6a9bd6"/>
<rect x="249.38" y="304.90" width="4.0" height="4.0" fill="#6a9bd6"/>
<rect x="258.06" y="296.00" width="4.0" height="4.0" fill="#6a9bd6"/>
<rect x="262.40" y="296.00" width="4.0" height="4.0" fill="#6a9bd6"/>
<rect x="266.74" y="290.70" width="4.0" height="4.0" fill="#6a9bd6"/>
<rect x="271.08" y="288.60" width="4.0" height="4.0" fill="#6a9bd6"/>
<rect x="275.42" y="285.70" width="4.0" height="4.0" fill="#6a9bd6"/>
<line x1="163.80" y1="450.20" x2="243.20" y2="294.90" stroke="#000" stroke-width="1.7" />
<text font-size="10.3" text-anchor="start" fill="#000" transform="translate(80.80 346.00) scale(1.06 1)" ><tspan font-style="italic">a</tspan> = 8.81 cm<tspan dy="-5.1" font-size="7.8">−1</tspan></text>
<text font-size="10.3" text-anchor="start" fill="#000" transform="translate(211.20 381.40) scale(1.06 1)" ><tspan font-style="italic">g</tspan> = 23.71cm<tspan dy="-5.1" font-size="7.8">−1</tspan></text>
<text font-size="15.5" text-anchor="start" fill="#000" font-weight="bold" transform="translate(364.00 268.60) scale(1.06 1)" >d</text>
<line x1="427.60" y1="264.20" x2="666.90" y2="264.20" stroke="#000" stroke-width="1" />
<line x1="427.60" y1="263.70" x2="427.60" y2="456.60" stroke="#000" stroke-width="1" />
<line x1="427.10" y1="456.10" x2="667.40" y2="456.10" stroke="#000" stroke-width="1" />
<line x1="666.90" y1="263.70" x2="666.90" y2="456.60" stroke="#000" stroke-width="1" />
<line x1="424.40" y1="456.00" x2="427.60" y2="456.00" stroke="#000" stroke-width="1" />
<text font-size="10.3" text-anchor="end" fill="#000" transform="translate(418.50 460.50) scale(1.06 1)" >-20</text>
<line x1="424.40" y1="415.65" x2="427.60" y2="415.65" stroke="#000" stroke-width="1" />
<text font-size="10.3" text-anchor="end" fill="#000" transform="translate(418.50 420.15) scale(1.06 1)" >-10</text>
<line x1="424.40" y1="375.30" x2="427.60" y2="375.30" stroke="#000" stroke-width="1" />
<text font-size="10.3" text-anchor="end" fill="#000" transform="translate(418.50 379.80) scale(1.06 1)" >0</text>
<line x1="424.40" y1="334.95" x2="427.60" y2="334.95" stroke="#000" stroke-width="1" />
<text font-size="10.3" text-anchor="end" fill="#000" transform="translate(418.50 339.45) scale(1.06 1)" >10</text>
<line x1="424.40" y1="294.60" x2="427.60" y2="294.60" stroke="#000" stroke-width="1" />
<text font-size="10.3" text-anchor="end" fill="#000" transform="translate(418.50 299.10) scale(1.06 1)" >20</text>
<line x1="425.80" y1="435.83" x2="427.60" y2="435.83" stroke="#000" stroke-width="0.8" />
<line x1="425.80" y1="395.48" x2="427.60" y2="395.48" stroke="#000" stroke-width="0.8" />
<line x1="425.80" y1="355.12" x2="427.60" y2="355.12" stroke="#000" stroke-width="0.8" />
<line x1="425.80" y1="314.77" x2="427.60" y2="314.77" stroke="#000" stroke-width="0.8" />
<line x1="425.80" y1="274.43" x2="427.60" y2="274.43" stroke="#000" stroke-width="0.8" />
<line x1="467.40" y1="456.10" x2="467.40" y2="459.50" stroke="#000" stroke-width="1" />
<text font-size="10.3" text-anchor="middle" fill="#000" transform="translate(467.40 473.80) scale(1.06 1)" >500</text>
<line x1="533.90" y1="456.10" x2="533.90" y2="459.50" stroke="#000" stroke-width="1" />
<text font-size="10.3" text-anchor="middle" fill="#000" transform="translate(533.90 473.80) scale(1.06 1)" >600</text>
<line x1="600.40" y1="456.10" x2="600.40" y2="459.50" stroke="#000" stroke-width="1" />
<text font-size="10.3" text-anchor="middle" fill="#000" transform="translate(600.40 473.80) scale(1.06 1)" >700</text>
<line x1="666.90" y1="456.10" x2="666.90" y2="459.50" stroke="#000" stroke-width="1" />
<text font-size="10.3" text-anchor="middle" fill="#000" transform="translate(666.90 473.80) scale(1.06 1)" >800</text>
<line x1="434.15" y1="456.10" x2="434.15" y2="457.90" stroke="#000" stroke-width="0.8" />
<line x1="500.65" y1="456.10" x2="500.65" y2="457.90" stroke="#000" stroke-width="0.8" />
<line x1="567.15" y1="456.10" x2="567.15" y2="457.90" stroke="#000" stroke-width="0.8" />
<line x1="633.65" y1="456.10" x2="633.65" y2="457.90" stroke="#000" stroke-width="0.8" />
<text font-size="10.5" text-anchor="middle" fill="#000" transform="translate(547.20 491.30) scale(1.06 1)" >Wavelength (nm)</text>
<text font-size="10.8" text-anchor="middle" fill="#000" transform="translate(394.50 360.40) scale(1.06 1) rotate(-90)" >Δ mO.D.</text>
<text font-size="12.3" text-anchor="middle" fill="#000" transform="translate(683.30 359.20) scale(1.06 1) rotate(-90)" >ASE Intensity(a.u.)</text>
<polyline points="427.60,375.60 441.00,373.60 457.10,372.00 473.20,370.30 489.20,367.20 497.50,365.70 505.30,363.20 515.00,361.00 521.40,359.00 532.60,355.20 541.30,351.70 550.10,347.30 560.00,341.50 568.00,335.00 574.50,331.80 580.10,331.00 585.70,334.20 590.50,335.80 596.90,343.10 601.80,345.50 606.60,350.00 612.00,357.50 618.70,362.40 628.40,367.20 640.40,370.80 652.50,372.50 664.50,372.50 666.90,372.00" fill="none" stroke="#6c9fdc" stroke-width="2.6" stroke-linejoin="round" stroke-linecap="round" />
<polyline points="427.80,414.40 428.50,367.00 429.80,385.50 430.60,404.80 432.20,411.20 433.80,408.00 435.40,414.40 437.80,422.40 440.30,426.50 441.90,425.70 443.50,420.00 445.90,412.00 448.30,405.60 451.50,400.80 454.70,399.20 457.10,401.60 459.50,406.40 462.70,413.60 466.00,420.80 468.00,424.90 470.00,420.00 471.60,419.20 473.20,425.70 475.10,433.40 476.70,432.10 478.80,418.40 481.20,413.60 484.40,406.40 488.40,396.80 492.40,391.90 495.70,391.10 498.10,389.50 499.70,383.90 502.10,381.50 504.50,382.60 506.90,379.90 510.10,377.50 512.50,374.30 514.90,371.10 518.10,368.70 521.40,365.40 526.20,360.60 531.00,357.40 541.30,350.80 550.10,346.40 558.80,341.50 566.40,335.00 576.10,327.00 584.10,321.40 592.10,316.60 600.10,311.00 605.80,304.50 609.80,302.10 613.00,298.90 617.80,292.50 621.80,286.90 625.80,284.50 629.10,283.20 631.50,285.30 633.90,289.30 636.30,293.30 638.70,295.70 641.10,298.10 642.70,302.90 645.10,296.50 647.50,295.40 649.10,297.30 650.70,303.70 652.30,307.70 653.90,317.40 655.60,307.70 658.00,306.10 660.40,286.90 662.00,296.50 663.60,298.10 665.20,316.60 667.30,299.70" fill="none" stroke="#e07b74" stroke-width="1.3" stroke-linejoin="round" stroke-linecap="round" />
<g fill="#e07b74"><circle cx="427.80" cy="414.40" r="1.2"/><circle cx="427.82" cy="412.90" r="1.2"/><circle cx="427.84" cy="411.40" r="1.2"/><circle cx="427.87" cy="409.90" r="1.2"/><circle cx="427.89" cy="408.40" r="1.2"/><circle cx="427.91" cy="406.90" r="1.2"/><circle cx="427.93" cy="405.40" r="1.2"/><circle cx="427.96" cy="403.90" r="1.2"/><circle cx="427.98" cy="402.40" r="1.2"/><circle cx="428.00" cy="400.90" r="1.2"/><circle cx="428.02" cy="399.40" r="1.2"/><circle cx="428.04" cy="397.90" r="1.2"/><circle cx="428.07" cy="396.40" r="1.2"/><circle cx="428.09" cy="394.90" r="1.2"/><circle cx="428.11" cy="393.40" r="1.2"/><circle cx="428.13" cy="391.90" r="1.2"/><circle cx="428.15" cy="390.40" r="1.2"/><circle cx="428.18" cy="388.90" r="1.2"/><circle cx="428.20" cy="387.40" r="1.2"/><circle cx="428.22" cy="385.90" r="1.2"/><circle cx="428.24" cy="384.40" r="1.2"/><circle cx="428.27" cy="382.90" r="1.2"/><circle cx="428.29" cy="381.40" r="1.2"/><circle cx="428.31" cy="379.90" r="1.2"/><circle cx="428.33" cy="378.40" r="1.2"/><circle cx="428.35" cy="376.90" r="1.2"/><circle cx="428.38" cy="375.40" r="1.2"/><circle cx="428.40" cy="373.90" r="1.2"/><circle cx="428.42" cy="372.40" r="1.2"/><circle cx="428.44" cy="370.90" r="1.2"/><circle cx="428.46" cy="369.40" r="1.2"/><circle cx="428.49" cy="367.91" r="1.2"/><circle cx="428.54" cy="367.59" r="1.2"/><circle cx="428.65" cy="369.09" r="1.2"/><circle cx="428.75" cy="370.59" r="1.2"/><circle cx="428.86" cy="372.08" r="1.2"/><circle cx="428.96" cy="373.58" r="1.2"/><circle cx="429.07" cy="375.07" r="1.2"/><circle cx="429.17" cy="376.57" r="1.2"/><circle cx="429.28" cy="378.07" r="1.2"/><circle cx="429.38" cy="379.56" r="1.2"/><circle cx="429.49" cy="381.06" r="1.2"/><circle cx="429.59" cy="382.56" r="1.2"/><circle cx="429.70" cy="384.05" r="1.2"/><circle cx="429.80" cy="385.55" r="1.2"/><circle cx="429.86" cy="387.05" r="1.2"/><circle cx="429.93" cy="388.55" r="1.2"/><circle cx="429.99" cy="390.05" r="1.2"/><circle cx="430.05" cy="391.54" r="1.2"/><circle cx="430.11" cy="393.04" r="1.2"/><circle cx="430.17" cy="394.54" r="1.2"/><circle cx="430.24" cy="396.04" r="1.2"/><circle cx="430.30" cy="397.54" r="1.2"/><circle cx="430.36" cy="399.04" r="1.2"/><circle cx="430.42" cy="400.54" r="1.2"/><circle cx="430.49" cy="402.04" r="1.2"/><circle cx="430.55" cy="403.53" r="1.2"/><circle cx="430.66" cy="405.03" r="1.2"/><circle cx="431.02" cy="406.48" r="1.2"/><circle cx="431.38" cy="407.94" r="1.2"/><circle cx="431.75" cy="409.39" r="1.2"/><circle cx="432.11" cy="410.85" r="1.2"/><circle cx="432.71" cy="410.18" r="1.2"/><circle cx="433.38" cy="408.84" r="1.2"/><circle cx="433.94" cy="408.54" r="1.2"/><circle cx="434.30" cy="410.00" r="1.2"/><circle cx="434.66" cy="411.45" r="1.2"/><circle cx="435.03" cy="412.91" r="1.2"/><circle cx="435.39" cy="414.36" r="1.2"/><circle cx="435.82" cy="415.80" r="1.2"/><circle cx="436.25" cy="417.24" r="1.2"/><circle cx="436.68" cy="418.67" r="1.2"/><circle cx="437.11" cy="420.11" r="1.2"/><circle cx="437.54" cy="421.55" r="1.2"/><circle cx="438.12" cy="422.92" r="1.2"/><circle cx="438.90" cy="424.20" r="1.2"/><circle cx="439.68" cy="425.48" r="1.2"/><circle cx="440.57" cy="426.36" r="1.2"/><circle cx="441.90" cy="425.68" r="1.2"/><circle cx="442.31" cy="424.24" r="1.2"/><circle cx="442.72" cy="422.79" r="1.2"/><circle cx="443.12" cy="421.35" r="1.2"/><circle cx="443.53" cy="419.91" r="1.2"/><circle cx="443.96" cy="418.47" r="1.2"/><circle cx="444.39" cy="417.03" r="1.2"/><circle cx="444.82" cy="415.60" r="1.2"/><circle cx="445.25" cy="414.16" r="1.2"/><circle cx="445.68" cy="412.72" r="1.2"/><circle cx="446.16" cy="411.30" r="1.2"/><circle cx="446.69" cy="409.90" r="1.2"/><circle cx="447.22" cy="408.49" r="1.2"/><circle cx="447.74" cy="407.09" r="1.2"/><circle cx="448.27" cy="405.68" r="1.2"/><circle cx="449.08" cy="404.43" r="1.2"/><circle cx="449.91" cy="403.18" r="1.2"/><circle cx="450.75" cy="401.93" r="1.2"/><circle cx="451.63" cy="400.74" r="1.2"/><circle cx="452.97" cy="400.07" r="1.2"/><circle cx="454.31" cy="399.40" r="1.2"/><circle cx="455.45" cy="399.95" r="1.2"/><circle cx="456.51" cy="401.01" r="1.2"/><circle cx="457.40" cy="402.20" r="1.2"/><circle cx="458.07" cy="403.54" r="1.2"/><circle cx="458.74" cy="404.88" r="1.2"/><circle cx="459.41" cy="406.22" r="1.2"/><circle cx="460.03" cy="407.59" r="1.2"/><circle cx="460.64" cy="408.96" r="1.2"/><circle cx="461.25" cy="410.33" r="1.2"/><circle cx="461.86" cy="411.70" r="1.2"/><circle cx="462.47" cy="413.07" r="1.2"/><circle cx="463.08" cy="414.44" r="1.2"/><circle cx="463.71" cy="415.80" r="1.2"/><circle cx="464.33" cy="417.17" r="1.2"/><circle cx="464.96" cy="418.53" r="1.2"/><circle cx="465.58" cy="419.89" r="1.2"/><circle cx="466.22" cy="421.25" r="1.2"/><circle cx="466.88" cy="422.60" r="1.2"/><circle cx="467.54" cy="423.95" r="1.2"/><circle cx="468.17" cy="424.49" r="1.2"/><circle cx="468.73" cy="423.10" r="1.2"/><circle cx="469.30" cy="421.71" r="1.2"/><circle cx="469.87" cy="420.32" r="1.2"/><circle cx="471.03" cy="419.49" r="1.2"/><circle cx="471.81" cy="420.04" r="1.2"/><circle cx="472.16" cy="421.49" r="1.2"/><circle cx="472.52" cy="422.95" r="1.2"/><circle cx="472.88" cy="424.41" r="1.2"/><circle cx="473.24" cy="425.86" r="1.2"/><circle cx="473.60" cy="427.32" r="1.2"/><circle cx="473.96" cy="428.77" r="1.2"/><circle cx="474.32" cy="430.23" r="1.2"/><circle cx="474.68" cy="431.69" r="1.2"/><circle cx="475.04" cy="433.14" r="1.2"/><circle cx="476.06" cy="432.62" r="1.2"/><circle cx="476.80" cy="431.43" r="1.2"/><circle cx="477.03" cy="429.95" r="1.2"/><circle cx="477.26" cy="428.47" r="1.2"/><circle cx="477.48" cy="426.99" r="1.2"/><circle cx="477.71" cy="425.50" r="1.2"/><circle cx="477.94" cy="424.02" r="1.2"/><circle cx="478.17" cy="422.54" r="1.2"/><circle cx="478.39" cy="421.06" r="1.2"/><circle cx="478.62" cy="419.57" r="1.2"/><circle cx="478.94" cy="418.12" r="1.2"/><circle cx="479.61" cy="416.78" r="1.2"/><circle cx="480.28" cy="415.44" r="1.2"/><circle cx="480.95" cy="414.09" r="1.2"/><circle cx="481.58" cy="412.73" r="1.2"/><circle cx="482.19" cy="411.36" r="1.2"/><circle cx="482.80" cy="409.99" r="1.2"/><circle cx="483.41" cy="408.62" r="1.2"/><circle cx="484.02" cy="407.25" r="1.2"/><circle cx="484.62" cy="405.88" r="1.2"/><circle cx="485.20" cy="404.49" r="1.2"/><circle cx="485.77" cy="403.11" r="1.2"/><circle cx="486.35" cy="401.72" r="1.2"/><circle cx="486.93" cy="400.34" r="1.2"/><circle cx="487.50" cy="398.95" r="1.2"/><circle cx="488.08" cy="397.57" r="1.2"/><circle cx="488.82" cy="396.28" r="1.2"/><circle cx="489.77" cy="395.12" r="1.2"/><circle cx="490.72" cy="393.96" r="1.2"/><circle cx="491.67" cy="392.80" r="1.2"/><circle cx="492.73" cy="391.82" r="1.2"/><circle cx="494.19" cy="391.47" r="1.2"/><circle cx="495.65" cy="391.11" r="1.2"/><circle cx="496.90" cy="390.30" r="1.2"/><circle cx="498.12" cy="389.44" r="1.2"/><circle cx="498.53" cy="388.00" r="1.2"/><circle cx="498.94" cy="386.56" r="1.2"/><circle cx="499.35" cy="385.11" r="1.2"/><circle cx="499.87" cy="383.73" r="1.2"/><circle cx="500.93" cy="382.67" r="1.2"/><circle cx="501.99" cy="381.61" r="1.2"/><circle cx="503.32" cy="382.06" r="1.2"/><circle cx="504.64" cy="382.45" r="1.2"/><circle cx="505.63" cy="381.33" r="1.2"/><circle cx="506.63" cy="380.20" r="1.2"/><circle cx="507.77" cy="379.24" r="1.2"/><circle cx="508.97" cy="378.34" r="1.2"/><circle cx="510.16" cy="377.43" r="1.2"/><circle cx="511.06" cy="376.23" r="1.2"/><circle cx="511.96" cy="375.03" r="1.2"/><circle cx="512.86" cy="373.83" r="1.2"/><circle cx="513.76" cy="372.63" r="1.2"/><circle cx="514.66" cy="371.43" r="1.2"/><circle cx="515.77" cy="370.44" r="1.2"/><circle cx="516.97" cy="369.54" r="1.2"/><circle cx="518.17" cy="368.63" r="1.2"/><circle cx="519.23" cy="367.57" r="1.2"/><circle cx="520.29" cy="366.51" r="1.2"/><circle cx="521.35" cy="365.45" r="1.2"/><circle cx="522.41" cy="364.39" r="1.2"/><circle cx="523.47" cy="363.33" r="1.2"/><circle cx="524.53" cy="362.27" r="1.2"/><circle cx="525.59" cy="361.21" r="1.2"/><circle cx="526.73" cy="360.25" r="1.2"/><circle cx="527.98" cy="359.41" r="1.2"/><circle cx="529.23" cy="358.58" r="1.2"/><circle cx="530.47" cy="357.75" r="1.2"/><circle cx="531.73" cy="356.93" r="1.2"/><circle cx="532.99" cy="356.12" r="1.2"/><circle cx="534.26" cy="355.31" r="1.2"/><circle cx="535.52" cy="354.50" r="1.2"/><circle cx="536.78" cy="353.69" r="1.2"/><circle cx="538.05" cy="352.89" r="1.2"/><circle cx="539.31" cy="352.08" r="1.2"/><circle cx="540.57" cy="351.27" r="1.2"/><circle cx="541.87" cy="350.52" r="1.2"/><circle cx="543.21" cy="349.85" r="1.2"/><circle cx="544.55" cy="349.17" r="1.2"/><circle cx="545.89" cy="348.50" r="1.2"/><circle cx="547.23" cy="347.83" r="1.2"/><circle cx="548.58" cy="347.16" r="1.2"/><circle cx="549.92" cy="346.49" r="1.2"/><circle cx="551.23" cy="345.76" r="1.2"/><circle cx="552.54" cy="345.03" r="1.2"/><circle cx="553.84" cy="344.29" r="1.2"/><circle cx="555.15" cy="343.56" r="1.2"/><circle cx="556.46" cy="342.82" r="1.2"/><circle cx="557.76" cy="342.08" r="1.2"/><circle cx="559.04" cy="341.30" r="1.2"/><circle cx="560.18" cy="340.32" r="1.2"/><circle cx="561.32" cy="339.35" r="1.2"/><circle cx="562.46" cy="338.37" r="1.2"/><circle cx="563.60" cy="337.40" r="1.2"/><circle cx="564.74" cy="336.42" r="1.2"/><circle cx="565.88" cy="335.45" r="1.2"/><circle cx="567.03" cy="334.48" r="1.2"/><circle cx="568.18" cy="333.53" r="1.2"/><circle cx="569.34" cy="332.58" r="1.2"/><circle cx="570.50" cy="331.62" r="1.2"/><circle cx="571.65" cy="330.67" r="1.2"/><circle cx="572.81" cy="329.71" r="1.2"/><circle cx="573.97" cy="328.76" r="1.2"/><circle cx="575.13" cy="327.80" r="1.2"/><circle cx="576.29" cy="326.86" r="1.2"/><circle cx="577.52" cy="326.00" r="1.2"/><circle cx="578.75" cy="325.14" r="1.2"/><circle cx="579.98" cy="324.28" r="1.2"/><circle cx="581.21" cy="323.42" r="1.2"/><circle cx="582.44" cy="322.56" r="1.2"/><circle cx="583.67" cy="321.70" r="1.2"/><circle cx="584.93" cy="320.90" r="1.2"/><circle cx="586.22" cy="320.13" r="1.2"/><circle cx="587.51" cy="319.36" r="1.2"/><circle cx="588.79" cy="318.58" r="1.2"/><circle cx="590.08" cy="317.81" r="1.2"/><circle cx="591.36" cy="317.04" r="1.2"/><circle cx="592.63" cy="316.23" r="1.2"/><circle cx="593.86" cy="315.37" r="1.2"/><circle cx="595.08" cy="314.51" r="1.2"/><circle cx="596.31" cy="313.65" r="1.2"/><circle cx="597.54" cy="312.79" r="1.2"/><circle cx="598.77" cy="311.93" r="1.2"/><circle cx="600.00" cy="311.07" r="1.2"/><circle cx="601.01" cy="309.96" r="1.2"/><circle cx="602.00" cy="308.84" r="1.2"/><circle cx="602.99" cy="307.71" r="1.2"/><circle cx="603.98" cy="306.58" r="1.2"/><circle cx="604.96" cy="305.45" r="1.2"/><circle cx="606.00" cy="304.38" r="1.2"/><circle cx="607.29" cy="303.61" r="1.2"/><circle cx="608.57" cy="302.84" r="1.2"/><circle cx="609.85" cy="302.05" r="1.2"/><circle cx="610.91" cy="300.99" r="1.2"/><circle cx="611.97" cy="299.93" r="1.2"/><circle cx="613.03" cy="298.87" r="1.2"/><circle cx="613.93" cy="297.67" r="1.2"/><circle cx="614.83" cy="296.47" r="1.2"/><circle cx="615.73" cy="295.27" r="1.2"/><circle cx="616.63" cy="294.07" r="1.2"/><circle cx="617.53" cy="292.87" r="1.2"/><circle cx="618.41" cy="291.65" r="1.2"/><circle cx="619.28" cy="290.43" r="1.2"/><circle cx="620.15" cy="289.21" r="1.2"/><circle cx="621.02" cy="287.99" r="1.2"/><circle cx="621.94" cy="286.82" r="1.2"/><circle cx="623.22" cy="286.05" r="1.2"/><circle cx="624.51" cy="285.27" r="1.2"/><circle cx="625.80" cy="284.50" r="1.2"/><circle cx="627.19" cy="283.95" r="1.2"/><circle cx="628.59" cy="283.40" r="1.2"/><circle cx="629.81" cy="283.82" r="1.2"/><circle cx="630.94" cy="284.81" r="1.2"/><circle cx="631.89" cy="285.95" r="1.2"/><circle cx="632.66" cy="287.24" r="1.2"/><circle cx="633.43" cy="288.52" r="1.2"/><circle cx="634.21" cy="289.81" r="1.2"/><circle cx="634.98" cy="291.10" r="1.2"/><circle cx="635.75" cy="292.38" r="1.2"/><circle cx="636.60" cy="293.60" r="1.2"/><circle cx="637.66" cy="294.66" r="1.2"/><circle cx="638.73" cy="295.73" r="1.2"/><circle cx="639.79" cy="296.79" r="1.2"/><circle cx="640.85" cy="297.85" r="1.2"/><circle cx="641.46" cy="299.18" r="1.2"/><circle cx="641.94" cy="300.61" r="1.2"/><circle cx="642.41" cy="302.03" r="1.2"/><circle cx="642.90" cy="302.36" r="1.2"/><circle cx="643.43" cy="300.95" r="1.2"/><circle cx="643.96" cy="299.55" r="1.2"/><circle cx="644.48" cy="298.14" r="1.2"/><circle cx="645.01" cy="296.74" r="1.2"/><circle cx="646.23" cy="295.98" r="1.2"/><circle cx="647.57" cy="295.48" r="1.2"/><circle cx="648.53" cy="296.63" r="1.2"/><circle cx="649.25" cy="297.90" r="1.2"/><circle cx="649.61" cy="299.36" r="1.2"/><circle cx="649.98" cy="300.81" r="1.2"/><circle cx="650.34" cy="302.27" r="1.2"/><circle cx="650.71" cy="303.72" r="1.2"/><circle cx="651.27" cy="305.12" r="1.2"/><circle cx="651.82" cy="306.51" r="1.2"/><circle cx="652.34" cy="307.91" r="1.2"/><circle cx="652.58" cy="309.39" r="1.2"/><circle cx="652.82" cy="310.87" r="1.2"/><circle cx="653.07" cy="312.35" r="1.2"/><circle cx="653.31" cy="313.83" r="1.2"/><circle cx="653.56" cy="315.31" r="1.2"/><circle cx="653.80" cy="316.79" r="1.2"/><circle cx="654.05" cy="316.53" r="1.2"/><circle cx="654.31" cy="315.05" r="1.2"/><circle cx="654.57" cy="313.57" r="1.2"/><circle cx="654.83" cy="312.09" r="1.2"/><circle cx="655.09" cy="310.62" r="1.2"/><circle cx="655.35" cy="309.14" r="1.2"/><circle cx="655.63" cy="307.68" r="1.2"/><circle cx="656.88" cy="306.85" r="1.2"/><circle cx="658.02" cy="305.95" r="1.2"/><circle cx="658.21" cy="304.46" r="1.2"/><circle cx="658.39" cy="302.97" r="1.2"/><circle cx="658.58" cy="301.48" r="1.2"/><circle cx="658.76" cy="299.99" r="1.2"/><circle cx="658.95" cy="298.50" r="1.2"/><circle cx="659.14" cy="297.02" r="1.2"/><circle cx="659.32" cy="295.53" r="1.2"/><circle cx="659.51" cy="294.04" r="1.2"/><circle cx="659.69" cy="292.55" r="1.2"/><circle cx="659.88" cy="291.06" r="1.2"/><circle cx="660.07" cy="289.57" r="1.2"/><circle cx="660.25" cy="288.09" r="1.2"/><circle cx="660.45" cy="287.20" r="1.2"/><circle cx="660.70" cy="288.68" r="1.2"/><circle cx="660.94" cy="290.16" r="1.2"/><circle cx="661.19" cy="291.64" r="1.2"/><circle cx="661.44" cy="293.12" r="1.2"/><circle cx="661.68" cy="294.60" r="1.2"/><circle cx="661.93" cy="296.08" r="1.2"/><circle cx="662.76" cy="297.26" r="1.2"/><circle cx="663.63" cy="298.41" r="1.2"/><circle cx="663.76" cy="299.90" r="1.2"/><circle cx="663.89" cy="301.40" r="1.2"/><circle cx="664.01" cy="302.89" r="1.2"/><circle cx="664.14" cy="304.39" r="1.2"/><circle cx="664.27" cy="305.88" r="1.2"/><circle cx="664.40" cy="307.38" r="1.2"/><circle cx="664.53" cy="308.87" r="1.2"/><circle cx="664.66" cy="310.36" r="1.2"/><circle cx="664.79" cy="311.86" r="1.2"/><circle cx="664.92" cy="313.35" r="1.2"/><circle cx="665.05" cy="314.85" r="1.2"/><circle cx="665.18" cy="316.34" r="1.2"/><circle cx="665.35" cy="315.37" r="1.2"/><circle cx="665.54" cy="313.88" r="1.2"/><circle cx="665.72" cy="312.39" r="1.2"/><circle cx="665.91" cy="310.90" r="1.2"/><circle cx="666.09" cy="309.41" r="1.2"/><circle cx="666.28" cy="307.93" r="1.2"/><circle cx="666.46" cy="306.44" r="1.2"/><circle cx="666.65" cy="304.95" r="1.2"/><circle cx="666.83" cy="303.46" r="1.2"/><circle cx="667.02" cy="301.97" r="1.2"/><circle cx="667.20" cy="300.48" r="1.2"/></g>
<polyline points="427.60,375.30 427.85,375.30 428.10,375.30 428.35,375.30 428.60,375.30 428.85,375.30 429.10,375.30 429.35,375.30 429.60,375.30 429.85,375.30 430.10,375.30 430.35,375.30 430.60,375.30 430.85,375.30 431.10,375.30 431.35,375.30 431.60,375.30 431.85,375.30 432.10,375.30 432.35,375.30 432.60,375.30 432.85,375.30 433.10,375.30 433.35,375.30 433.60,375.30 433.85,375.30 434.10,375.30 434.35,375.30 434.60,375.30 434.85,375.30 435.10,375.30 435.35,375.30 435.60,375.30 435.85,375.30 436.10,375.30 436.35,375.30 436.60,375.30 436.85,375.30 437.10,375.30 437.35,375.30 437.60,375.30 437.85,375.30 438.10,375.30 438.35,375.30 438.60,375.30 438.85,375.30 439.10,375.30 439.35,375.30 439.60,375.30 439.85,375.30 440.10,375.30 440.35,375.30 440.60,375.30 440.85,375.30 441.10,375.30 441.35,375.30 441.60,375.30 441.85,375.30 442.10,375.30 442.35,375.30 442.60,375.30 442.85,375.30 443.10,375.30 443.35,375.30 443.60,375.30 443.85,375.30 444.10,375.30 444.35,375.30 444.60,375.30 444.85,375.30 445.10,375.30 445.35,375.30 445.60,375.30 445.85,375.30 446.10,375.30 446.35,375.30 446.60,375.30 446.85,375.30 447.10,375.30 447.35,375.30 447.60,375.30 447.85,375.30 448.10,375.30 448.35,375.30 448.60,375.30 448.85,375.30 449.10,375.30 449.35,375.30 449.60,375.30 449.85,375.30 450.10,375.30 450.35,375.30 450.60,375.30 450.85,375.30 451.10,375.30 451.35,375.30 451.60,375.30 451.85,375.30 452.10,375.30 452.35,375.30 452.60,375.30 452.85,375.30 453.10,375.30 453.35,375.30 453.60,375.30 453.85,375.30 454.10,375.30 454.35,375.30 454.60,375.30 454.85,375.30 455.10,375.30 455.35,375.30 455.60,375.29 455.85,375.29 456.10,375.28 456.35,375.27 456.60,375.26 456.85,375.24 457.10,375.21 457.35,375.16 457.60,375.10 457.85,375.00 458.10,374.88 458.35,374.70 458.60,374.46 458.85,374.14 459.10,373.71 459.35,373.15 459.60,372.43 459.85,371.51 460.10,370.36 460.35,368.93 460.60,367.18 460.85,365.08 461.10,362.59 461.35,359.67 461.60,356.30 461.85,352.48 462.10,348.22 462.35,343.54 462.60,338.48 462.85,333.12 463.10,327.55 463.35,321.88 463.60,316.24 463.85,310.76 464.10,305.61 464.35,300.93 464.60,296.87 464.85,293.56 465.10,291.11 465.35,289.61 465.60,289.10 465.85,289.61 466.10,289.93 466.35,292.43 466.60,295.79 466.85,299.89 467.10,304.61 467.35,309.81 467.60,315.32 467.85,321.00 468.10,326.71 468.35,332.31 468.60,337.70 468.85,342.79 469.10,347.50 469.35,351.80 469.60,355.64 469.85,359.03 470.10,361.98 470.35,364.50 470.60,366.63 470.85,368.40 471.10,369.85 471.35,371.02 471.60,371.96 471.85,372.70 472.10,373.28 472.35,373.72 472.60,374.06 472.85,374.32 473.10,374.51 473.35,374.65 473.60,374.76 473.85,374.84 474.10,374.90 474.35,374.94 474.60,374.97 474.85,375.00 475.10,375.02 475.35,375.04 475.60,375.05 475.85,375.06 476.10,375.07 476.35,375.08 476.60,375.09 476.85,375.10 477.10,375.11 477.35,375.12 477.60,375.13 477.85,375.13 478.10,375.14 478.35,375.15 478.60,375.15 478.85,375.16 479.10,375.16 479.35,375.17 479.60,375.18 479.85,375.18 480.10,375.19 480.35,375.19 480.60,375.19 480.85,375.20 481.10,375.20 481.35,375.21 481.60,375.21 481.85,375.21 482.10,375.22 482.35,375.22 482.60,375.22 482.85,375.23 483.10,375.23 483.35,375.23 483.60,375.24 483.85,375.24 484.10,375.24 484.35,375.24 484.60,375.25 484.85,375.25 485.10,375.25 485.35,375.25 485.60,375.25 485.85,375.26 486.10,375.26 486.35,375.26 486.60,375.26 486.85,375.26 487.10,375.26 487.35,375.27 487.60,375.27 487.85,375.27 488.10,375.27 488.35,375.27 488.60,375.27 488.85,375.27 489.10,375.27 489.35,375.28 489.60,375.28 489.85,375.28 490.10,375.28 490.35,375.28 490.60,375.28 490.85,375.28 491.10,375.28 491.35,375.28 491.60,375.28 491.85,375.28 492.10,375.28 492.35,375.29 492.60,375.29 492.85,375.29 493.10,375.29 493.35,375.29 493.60,375.29 493.85,375.29 494.10,375.29 494.35,375.29 494.60,375.29 494.85,375.29 495.10,375.29 495.35,375.29 495.60,375.29 495.85,375.29 496.10,375.29 496.35,375.29 496.60,375.29 496.85,375.29 497.10,375.29 497.35,375.29 497.60,375.29 497.85,375.29 498.10,375.29 498.35,375.29 498.60,375.29 498.85,375.29 499.10,375.30 499.35,375.30 499.60,375.30 499.85,375.30 500.10,375.30 500.35,375.30 500.60,375.30 500.85,375.30 501.10,375.30 501.35,375.30 501.60,375.30 501.85,375.30 502.10,375.30 502.35,375.30 502.60,375.30 502.85,375.30 503.10,375.30 503.35,375.30 503.60,375.30 503.85,375.30 504.10,375.30 504.35,375.30 504.60,375.30 504.85,375.30 505.10,375.30 505.35,375.30 505.60,375.30 505.85,375.30 506.10,375.30 506.35,375.30 506.60,375.30 506.85,375.30 507.10,375.30 507.35,375.30 507.60,375.30 507.85,375.30 508.10,375.30 508.35,375.30 508.60,375.30 508.85,375.30 509.10,375.30 509.35,375.30 509.60,375.30 509.85,375.30 510.10,375.30 510.35,375.30 510.60,375.30 510.85,375.30 511.10,375.30 511.35,375.30 511.60,375.30 511.85,375.30 512.10,375.30 512.35,375.30 512.60,375.30 512.85,375.30 513.10,375.30 513.35,375.30 513.60,375.30 513.85,375.30 514.10,375.30 514.35,375.30 514.60,375.30 514.85,375.30 515.10,375.30 515.35,375.30 515.60,375.30 515.85,375.30 516.10,375.30 516.35,375.30 516.60,375.30 516.85,375.30 517.10,375.30 517.35,375.30 517.60,375.30 517.85,375.30 518.10,375.30 518.35,375.30 518.60,375.30 518.85,375.30 519.10,375.30 519.35,375.30 519.60,375.30 519.85,375.30 520.10,375.30 520.35,375.30 520.60,375.30 520.85,375.30 521.10,375.30 521.35,375.30 521.60,375.30 521.85,375.30 522.10,375.30 522.35,375.30 522.60,375.30 522.85,375.30 523.10,375.30 523.35,375.30 523.60,375.30 523.85,375.30 524.10,375.30 524.35,375.30 524.60,375.30 524.85,375.30 525.10,375.30 525.35,375.30 525.60,375.30 525.85,375.30 526.10,375.30 526.35,375.30 526.60,375.30 526.85,375.30 527.10,375.30 527.35,375.30 527.60,375.30 527.85,375.30 528.10,375.30 528.35,375.30 528.60,375.30 528.85,375.30 529.10,375.30 529.35,375.30 529.60,375.30 529.85,375.30 530.10,375.30 530.35,375.30 530.60,375.30 530.85,375.30 531.10,375.30 531.35,375.30 531.60,375.30 531.85,375.30 532.10,375.30 532.35,375.30 532.60,375.30 532.85,375.30 533.10,375.30 533.35,375.30 533.60,375.30 533.85,375.30 534.10,375.30 534.35,375.30 534.60,375.30 534.85,375.30 535.10,375.30 535.35,375.30 535.60,375.30 535.85,375.30 536.10,375.30 536.35,375.30 536.60,375.30 536.85,375.30 537.10,375.30 537.35,375.30 537.60,375.30 537.85,375.30 538.10,375.30 538.35,375.30 538.60,375.30 538.85,375.30 539.10,375.30 539.35,375.30 539.60,375.30 539.85,375.30 540.10,375.30 540.35,375.30 540.60,375.30 540.85,375.30 541.10,375.30 541.35,375.30 541.60,375.30 541.85,375.30 542.10,375.30 542.35,375.30 542.60,375.30 542.85,375.30 543.10,375.30 543.35,375.30 543.60,375.30 543.85,375.30 544.10,375.30 544.35,375.30 544.60,375.30 544.85,375.30 545.10,375.30 545.35,375.30 545.60,375.30 545.85,375.30 546.10,375.30 546.35,375.30 546.60,375.30 546.85,375.30 547.10,375.30 547.35,375.30 547.60,375.30 547.85,375.30 548.10,375.30 548.35,375.30 548.60,375.30 548.85,375.30 549.10,375.30 549.35,375.30 549.60,375.30 549.85,375.30 550.10,375.30 550.35,375.30 550.60,375.30 550.85,375.30 551.10,375.30 551.35,375.30 551.60,375.30 551.85,375.30 552.10,375.30 552.35,375.30 552.60,375.30 552.85,375.30 553.10,375.30 553.35,375.30 553.60,375.30 553.85,375.30 554.10,375.30 554.35,375.30 554.60,375.30 554.85,375.30 555.10,375.30 555.35,375.30 555.60,375.30 555.85,375.30 556.10,375.30 556.35,375.30 556.60,375.30 556.85,375.30 557.10,375.30 557.35,375.30 557.60,375.30 557.85,375.30 558.10,375.30 558.35,375.30 558.60,375.30 558.85,375.30 559.10,375.30 559.35,375.30 559.60,375.30 559.85,375.30 560.10,375.30 560.35,375.30 560.60,375.30 560.85,375.30 561.10,375.30 561.35,375.30 561.60,375.30 561.85,375.30 562.10,375.30 562.35,375.30 562.60,375.30 562.85,375.30 563.10,375.30 563.35,375.30 563.60,375.30 563.85,375.30 564.10,375.30 564.35,375.30 564.60,375.30 564.85,375.30 565.10,375.30 565.35,375.30 565.60,375.30 565.85,375.30 566.10,375.30 566.35,375.30 566.60,375.30 566.85,375.30 567.10,375.30 567.35,375.30 567.60,375.30 567.85,375.30 568.10,375.30 568.35,375.30 568.60,375.30 568.85,375.30 569.10,375.30 569.35,375.30 569.60,375.30 569.85,375.30 570.10,375.30 570.35,375.30 570.60,375.30 570.85,375.30 571.10,375.30 571.35,375.30 571.60,375.30 571.85,375.30 572.10,375.30 572.35,375.30 572.60,375.30 572.85,375.30 573.10,375.30 573.35,375.30 573.60,375.30 573.85,375.30 574.10,375.30 574.35,375.30 574.60,375.30 574.85,375.30 575.10,375.30 575.35,375.30 575.60,375.30 575.85,375.30 576.10,375.30 576.35,375.30 576.60,375.30 576.85,375.30 577.10,375.30 577.35,375.30 577.60,375.30 577.85,375.30 578.10,375.30 578.35,375.30 578.60,375.30 578.85,375.30 579.10,375.30 579.35,375.30 579.60,375.30 579.85,375.30 580.10,375.30 580.35,375.30 580.60,375.30 580.85,375.30 581.10,375.30 581.35,375.30 581.60,375.30 581.85,375.30 582.10,375.30 582.35,375.30 582.60,375.30 582.85,375.30 583.10,375.30 583.35,375.30 583.60,375.30 583.85,375.30 584.10,375.30 584.35,375.30 584.60,375.30 584.85,375.30 585.10,375.30 585.35,375.30 585.60,375.30 585.85,375.30 586.10,375.30 586.35,375.30 586.60,375.30 586.85,375.30 587.10,375.30 587.35,375.30 587.60,375.30 587.85,375.30 588.10,375.30 588.35,375.30 588.60,375.30 588.85,375.30 589.10,375.30 589.35,375.30 589.60,375.30 589.85,375.30 590.10,375.30 590.35,375.30 590.60,375.30 590.85,375.30 591.10,375.30 591.35,375.30 591.60,375.30 591.85,375.30 592.10,375.30 592.35,375.30 592.60,375.30 592.85,375.30 593.10,375.30 593.35,375.30 593.60,375.30 593.85,375.30 594.10,375.30 594.35,375.30 594.60,375.30 594.85,375.30 595.10,375.30 595.35,375.30 595.60,375.30 595.85,375.30 596.10,375.30 596.35,375.30 596.60,375.30 596.85,375.30 597.10,375.30 597.35,375.30 597.60,375.30 597.85,375.30 598.10,375.30 598.35,375.30 598.60,375.30 598.85,375.30 599.10,375.30 599.35,375.30 599.60,375.30 599.85,375.30 600.10,375.30 600.35,375.30 600.60,375.30 600.85,375.30 601.10,375.30 601.35,375.30 601.60,375.30 601.85,375.30 602.10,375.30 602.35,375.30 602.60,375.30 602.85,375.30 603.10,375.30 603.35,375.30 603.60,375.30 603.85,375.30 604.10,375.30 604.35,375.30 604.60,375.30 604.85,375.30 605.10,375.30 605.35,375.30 605.60,375.30 605.85,375.30 606.10,375.30 606.35,375.30 606.60,375.30 606.85,375.30 607.10,375.30 607.35,375.30 607.60,375.30 607.85,375.30 608.10,375.30 608.35,375.30 608.60,375.30 608.85,375.30 609.10,375.30 609.35,375.30 609.60,375.30 609.85,375.30 610.10,375.30 610.35,375.30 610.60,375.30 610.85,375.30 611.10,375.30 611.35,375.30 611.60,375.30 611.85,375.30 612.10,375.30 612.35,375.30 612.60,375.30 612.85,375.30 613.10,375.30 613.35,375.30 613.60,375.30 613.85,375.30 614.10,375.30 614.35,375.30 614.60,375.30 614.85,375.30 615.10,375.30 615.35,375.30 615.60,375.30 615.85,375.30 616.10,375.30 616.35,375.30 616.60,375.30 616.85,375.30 617.10,375.30 617.35,375.30 617.60,375.30 617.85,375.30 618.10,375.30 618.35,375.30 618.60,375.30 618.85,375.30 619.10,375.30 619.35,375.30 619.60,375.30 619.85,375.30 620.10,375.30 620.35,375.30 620.60,375.30 620.85,375.30 621.10,375.30 621.35,375.30 621.60,375.30 621.85,375.30 622.10,375.30 622.35,375.30 622.60,375.30 622.85,375.30 623.10,375.30 623.35,375.30 623.60,375.30 623.85,375.30 624.10,375.30 624.35,375.30 624.60,375.30 624.85,375.30 625.10,375.30 625.35,375.30 625.60,375.30 625.85,375.30 626.10,375.30 626.35,375.30 626.60,375.30 626.85,375.30 627.10,375.30 627.35,375.30 627.60,375.30 627.85,375.30 628.10,375.30 628.35,375.30 628.60,375.30 628.85,375.30 629.10,375.30 629.35,375.30 629.60,375.30 629.85,375.30 630.10,375.30 630.35,375.30 630.60,375.30 630.85,375.30 631.10,375.30 631.35,375.30 631.60,375.30 631.85,375.30 632.10,375.30 632.35,375.30 632.60,375.30 632.85,375.30 633.10,375.30 633.35,375.30 633.60,375.30 633.85,375.30 634.10,375.30 634.35,375.30 634.60,375.30 634.85,375.30 635.10,375.30 635.35,375.30 635.60,375.30 635.85,375.30 636.10,375.30 636.35,375.30 636.60,375.30 636.85,375.30 637.10,375.30 637.35,375.30 637.60,375.30 637.85,375.30 638.10,375.30 638.35,375.30 638.60,375.30 638.85,375.30 639.10,375.30 639.35,375.30 639.60,375.30 639.85,375.30 640.10,375.30 640.35,375.30 640.60,375.30 640.85,375.30 641.10,375.30 641.35,375.30 641.60,375.30 641.85,375.30 642.10,375.30 642.35,375.30 642.60,375.30 642.85,375.30 643.10,375.30 643.35,375.30 643.60,375.30 643.85,375.30 644.10,375.30 644.35,375.30 644.60,375.30 644.85,375.30 645.10,375.30 645.35,375.30 645.60,375.30 645.85,375.30 646.10,375.30 646.35,375.30 646.60,375.30 646.85,375.30 647.10,375.30 647.35,375.30 647.60,375.30 647.85,375.30 648.10,375.30 648.35,375.30 648.60,375.30 648.85,375.30 649.10,375.30 649.35,375.30 649.60,375.30 649.85,375.30 650.10,375.30 650.35,375.30 650.60,375.30 650.85,375.30 651.10,375.30 651.35,375.30 651.60,375.30 651.85,375.30 652.10,375.30 652.35,375.30 652.60,375.30 652.85,375.30 653.10,375.30 653.35,375.30 653.60,375.30 653.85,375.30 654.10,375.30 654.35,375.30 654.60,375.30 654.85,375.30 655.10,375.30 655.35,375.30 655.60,375.30 655.85,375.30 656.10,375.30 656.35,375.30 656.60,375.30 656.85,375.30 657.10,375.30 657.35,375.30 657.60,375.30 657.85,375.30 658.10,375.30 658.35,375.30 658.60,375.30 658.85,375.30 659.10,375.30 659.35,375.30 659.60,375.30 659.85,375.30 660.10,375.30 660.35,375.30 660.60,375.30 660.85,375.30 661.10,375.30 661.35,375.30 661.60,375.30 661.85,375.30 662.10,375.30 662.35,375.30 662.60,375.30 662.85,375.30 663.10,375.30 663.35,375.30 663.60,375.30 663.85,375.30 664.10,375.30 664.35,375.30 664.60,375.30 664.85,375.30 665.10,375.30 665.35,375.30 665.60,375.30 665.85,375.30 666.10,375.30 666.35,375.30 666.60,375.30 666.85,375.30" fill="none" stroke="#000" stroke-width="1.6" stroke-linejoin="round" stroke-linecap="round" />
<line x1="486.70" y1="286.70" x2="511.20" y2="286.70" stroke="#e07b74" stroke-width="1.3" />
<circle cx="499.00" cy="286.70" r="1.2" fill="#e07b74"/>
<text font-size="10.4" text-anchor="start" fill="#000" transform="translate(516.40 290.50) scale(1.06 1)" >Singlet exction</text>
<line x1="486.70" y1="300.30" x2="511.20" y2="300.30" stroke="#6c9fdc" stroke-width="1.3" />
<circle cx="499.00" cy="300.30" r="1.2" fill="#6c9fdc"/>
<text font-size="10.4" text-anchor="start" fill="#000" transform="translate(516.40 304.10) scale(1.06 1)" >Triplet exction</text>
<line x1="486.70" y1="313.90" x2="511.20" y2="313.90" stroke="#000" stroke-width="1.5" />
<text font-size="10.4" text-anchor="start" fill="#000" transform="translate(516.40 317.70) scale(1.06 1)" >ASE</text>
<text font-size="15.5" text-anchor="start" fill="#000" font-weight="bold" transform="translate(-0.30 521.30) scale(1.06 1)" >e</text>
<line x1="69.10" y1="519.60" x2="307.40" y2="519.60" stroke="#000" stroke-width="1" />
<line x1="69.10" y1="519.10" x2="69.10" y2="711.70" stroke="#000" stroke-width="1" />
<line x1="68.60" y1="711.20" x2="307.90" y2="711.20" stroke="#000" stroke-width="1" />
<line x1="307.40" y1="519.10" x2="307.40" y2="711.70" stroke="#000" stroke-width="1" />
<line x1="65.90" y1="711.25" x2="69.10" y2="711.25" stroke="#000" stroke-width="1" />
<line x1="65.90" y1="615.40" x2="69.10" y2="615.40" stroke="#000" stroke-width="1" />
<line x1="65.90" y1="519.55" x2="69.10" y2="519.55" stroke="#000" stroke-width="1" />
<line x1="67.30" y1="663.32" x2="69.10" y2="663.32" stroke="#000" stroke-width="0.8" />
<line x1="67.30" y1="567.48" x2="69.10" y2="567.48" stroke="#000" stroke-width="0.8" />
<text font-size="10.3" text-anchor="end" fill="#000" transform="translate(60.20 524.05) scale(1.06 1)" >1 × 10<tspan dy="-5.1" font-size="7.8">3</tspan></text>
<text font-size="10.3" text-anchor="end" fill="#000" transform="translate(60.20 619.90) scale(1.06 1)" >0</text>
<text font-size="10.3" text-anchor="end" fill="#000" transform="translate(60.20 715.75) scale(1.06 1)" >−1 × 10<tspan dy="-5.1" font-size="7.8">3</tspan></text>
<line x1="69.10" y1="711.20" x2="69.10" y2="714.60" stroke="#000" stroke-width="1" />
<text font-size="10.3" text-anchor="middle" fill="#000" transform="translate(69.10 729.20) scale(1.06 1)" >0</text>
<line x1="148.50" y1="711.20" x2="148.50" y2="714.60" stroke="#000" stroke-width="1" />
<text font-size="10.3" text-anchor="middle" fill="#000" transform="translate(148.50 729.20) scale(1.06 1)" >10</text>
<line x1="227.90" y1="711.20" x2="227.90" y2="714.60" stroke="#000" stroke-width="1" />
<text font-size="10.3" text-anchor="middle" fill="#000" transform="translate(227.90 729.20) scale(1.06 1)" >20</text>
<line x1="307.30" y1="711.20" x2="307.30" y2="714.60" stroke="#000" stroke-width="1" />
<text font-size="10.3" text-anchor="middle" fill="#000" transform="translate(307.30 729.20) scale(1.06 1)" >30</text>
<line x1="108.80" y1="711.20" x2="108.80" y2="713.00" stroke="#000" stroke-width="0.8" />
<line x1="188.20" y1="711.20" x2="188.20" y2="713.00" stroke="#000" stroke-width="0.8" />
<line x1="267.60" y1="711.20" x2="267.60" y2="713.00" stroke="#000" stroke-width="0.8" />
<text font-size="10.5" text-anchor="middle" fill="#000" transform="translate(188.20 746.50) scale(1.06 1)" >Time (ns)</text>
<text font-size="10.8" text-anchor="middle" fill="#000" transform="translate(14.20 615.10) scale(1.06 1) rotate(-90)" >Net gain (cm<tspan dy="-4" font-size="7">−1</tspan><tspan dy="4">)</tspan></text>
<polyline points="69.10,622.90 77.04,622.86 84.98,622.83 92.92,622.79 100.86,622.75 108.80,622.72 116.74,622.68 124.68,622.64 132.62,622.61 140.56,622.57 148.50,622.53 156.44,622.50 164.38,622.46 172.32,622.42 180.26,622.39 188.20,622.35 196.14,622.31 204.08,622.28 212.02,622.24 219.96,622.20 227.90,622.17 235.84,622.13 243.78,622.09 251.72,622.06 259.66,622.02 267.60,621.98 275.54,621.95 283.48,621.91 291.42,621.87 299.36,621.84 307.30,621.80" fill="none" stroke="#333" stroke-width="1.4" stroke-linejoin="round" stroke-linecap="round" />
<polyline points="69.10,622.90 77.04,622.85 84.98,622.81 92.92,622.76 100.86,622.71 108.80,622.67 116.74,622.62 124.68,622.57 132.62,622.53 140.56,622.48 148.50,622.43 156.44,622.39 164.38,622.34 172.32,622.29 180.26,622.25 188.20,622.20 196.14,622.15 204.08,622.11 212.02,622.06 219.96,622.01 227.90,621.97 235.84,621.92 243.78,621.87 251.72,621.83 259.66,621.78 267.60,621.73 275.54,621.69 283.48,621.64 291.42,621.59 299.36,621.55 307.30,621.50" fill="none" stroke="#e06a64" stroke-width="1.4" stroke-linejoin="round" stroke-linecap="round" />
<polyline points="69.30,622.90 70.58,622.82 72.33,622.71 74.41,622.58 76.71,622.44 79.08,622.28 81.41,622.12 83.55,621.96 85.40,621.80 86.97,621.65 88.39,621.49 89.69,621.34 90.92,621.17 92.10,621.00 93.27,620.82 94.46,620.62 95.70,620.40 96.98,620.16 98.26,619.89 99.53,619.61 100.81,619.31 102.08,619.01 103.35,618.70 104.63,618.40 105.90,618.10 107.18,617.80 108.45,617.50 109.73,617.19 111.00,616.89 112.28,616.58 113.55,616.28 114.83,615.99 116.10,615.70 117.38,615.42 118.65,615.15 119.92,614.89 121.20,614.62 122.47,614.37 123.75,614.11 125.02,613.86 126.30,613.60 127.58,613.34 128.85,613.07 130.12,612.80 131.40,612.54 132.68,612.28 133.95,612.03 135.22,611.81 136.50,611.60 137.77,611.41 139.05,611.24 140.32,611.08 141.59,610.94 142.87,610.81 144.14,610.69 145.42,610.59 146.70,610.50 147.98,610.43 149.27,610.38 150.56,610.34 151.85,610.31 153.14,610.30 154.43,610.29 155.72,610.29 157.00,610.30 158.28,610.31 159.56,610.32 160.83,610.35 162.11,610.37 163.38,610.41 164.65,610.46 165.93,610.53 167.20,610.60 168.47,610.68 169.75,610.78 171.02,610.88 172.30,610.99 173.57,611.12 174.85,611.26 176.12,611.42 177.40,611.60 178.68,611.80 179.98,612.02 181.27,612.26 182.57,612.51 183.86,612.78 185.13,613.05 186.38,613.32 187.60,613.60 188.77,613.88 189.89,614.16 190.98,614.44 192.06,614.73 193.15,615.03 194.27,615.34 195.45,615.66 196.70,616.00 198.04,616.35 199.44,616.72 200.90,617.11 202.39,617.50 203.90,617.90 205.41,618.30 206.92,618.70 208.40,619.10 209.86,619.49 211.33,619.89 212.79,620.28 214.25,620.68 215.71,621.08 217.18,621.48 218.64,621.89 220.10,622.30 221.56,622.72 223.03,623.14 224.49,623.57 225.96,624.00 227.42,624.43 228.88,624.86 230.34,625.28 231.80,625.70 233.25,626.11 234.70,626.51 236.15,626.91 237.60,627.31 239.05,627.70 240.50,628.10 241.95,628.50 243.40,628.90 244.86,629.31 246.32,629.73 247.78,630.15 249.24,630.57 250.71,630.99 252.17,631.40 253.64,631.81 255.10,632.20 256.56,632.58 258.02,632.96 259.49,633.33 260.95,633.69 262.41,634.05 263.88,634.41 265.34,634.75 266.80,635.10 268.26,635.44 269.73,635.78 271.19,636.11 272.65,636.43 274.11,636.75 275.57,637.07 277.04,637.39 278.50,637.70 279.93,638.01 281.30,638.31 282.65,638.61 284.01,638.91 285.42,639.20 286.90,639.50 288.48,639.80 290.20,640.10 292.20,640.42 294.50,640.78 296.97,641.14 299.48,641.50 301.90,641.84 304.10,642.15 305.94,642.41 307.30,642.60" fill="none" stroke="#5b90d8" stroke-width="1.4" stroke-linejoin="round" stroke-linecap="round" />
<polyline points="69.30,622.90 69.92,622.85 70.74,622.80 71.71,622.75 72.79,622.68 73.94,622.59 75.11,622.48 76.24,622.35 77.30,622.20 78.29,622.04 79.27,621.88 80.23,621.70 81.21,621.51 82.20,621.27 83.22,620.98 84.28,620.63 85.40,620.20 86.58,619.68 87.82,619.08 89.11,618.41 90.42,617.69 91.75,616.94 93.08,616.16 94.40,615.38 95.70,614.60 96.98,613.81 98.26,612.97 99.53,612.12 100.81,611.24 102.08,610.37 103.35,609.52 104.63,608.69 105.90,607.90 107.18,607.14 108.45,606.38 109.73,605.64 111.00,604.92 112.28,604.23 113.55,603.58 114.83,602.96 116.10,602.40 117.40,601.88 118.72,601.40 120.06,600.95 121.39,600.54 122.69,600.17 123.96,599.84 125.17,599.55 126.30,599.30 127.33,599.09 128.26,598.92 129.13,598.80 129.96,598.71 130.79,598.65 131.63,598.64 132.52,598.65 133.50,598.70 134.57,598.79 135.70,598.93 136.89,599.11 138.09,599.32 139.30,599.56 140.49,599.81 141.63,600.06 142.70,600.30 143.67,600.53 144.56,600.74 145.38,600.94 146.19,601.17 147.02,601.42 147.91,601.72 148.89,602.07 150.00,602.50 151.25,603.00 152.62,603.56 154.07,604.17 155.57,604.82 157.12,605.52 158.67,606.25 160.21,607.02 161.70,607.80 163.16,608.63 164.63,609.52 166.09,610.45 167.56,611.41 169.02,612.38 170.48,613.34 171.94,614.29 173.40,615.20 174.85,616.07 176.30,616.93 177.75,617.76 179.20,618.59 180.65,619.43 182.10,620.26 183.55,621.12 185.00,622.00 186.46,622.91 187.92,623.84 189.38,624.79 190.84,625.75 192.31,626.71 193.77,627.66 195.24,628.59 196.70,629.50 198.16,630.39 199.62,631.28 201.09,632.16 202.55,633.03 204.01,633.88 205.47,634.71 206.94,635.52 208.40,636.30 209.86,637.04 211.33,637.75 212.79,638.44 214.25,639.10 215.71,639.75 217.18,640.40 218.64,641.04 220.10,641.70 221.56,642.37 223.03,643.03 224.49,643.70 225.96,644.36 227.42,645.02 228.88,645.66 230.34,646.29 231.80,646.90 233.25,647.49 234.70,648.06 236.15,648.61 237.60,649.15 239.05,649.69 240.50,650.22 241.95,650.76 243.40,651.30 244.86,651.85 246.32,652.41 247.78,652.97 249.24,653.52 250.71,654.08 252.17,654.63 253.64,655.17 255.10,655.70 256.56,656.22 258.02,656.73 259.49,657.23 260.95,657.73 262.41,658.22 263.88,658.72 265.34,659.21 266.80,659.70 268.26,660.20 269.73,660.69 271.19,661.19 272.65,661.69 274.11,662.18 275.57,662.66 277.04,663.14 278.50,663.60 279.93,664.04 281.30,664.47 282.65,664.89 284.01,665.29 285.42,665.70 286.90,666.12 288.48,666.55 290.20,667.00 292.20,667.50 294.50,668.05 296.97,668.63 299.48,669.21 301.90,669.77 304.10,670.27 305.94,670.69 307.30,671.00" fill="none" stroke="#8ccb78" stroke-width="1.4" stroke-linejoin="round" stroke-linecap="round" />
<polyline points="69.10,622.97 77.04,615.40 84.98,579.94 92.92,541.98 100.86,532.01 108.80,553.48 116.74,584.15 124.68,614.82 132.62,637.64 140.56,662.94 148.50,683.07 156.44,697.74 164.38,709.24 172.32,711.06" fill="none" stroke="#b86dff" stroke-width="1.6" stroke-linejoin="round" stroke-linecap="round" />
<line x1="219.10" y1="532.20" x2="243.60" y2="532.20" stroke="#333" stroke-width="1.4" />
<text font-size="10.7" text-anchor="start" fill="#000" transform="translate(247.20 536.10) scale(1.06 1)" >0.5 kA cm<tspan dy="-5.1" font-size="7.8">−2</tspan></text>
<line x1="219.10" y1="547.25" x2="243.60" y2="547.25" stroke="#e06a64" stroke-width="1.4" />
<text font-size="10.7" text-anchor="start" fill="#000" transform="translate(247.20 551.15) scale(1.06 1)" >1 kA cm<tspan dy="-5.1" font-size="7.8">−2</tspan></text>
<line x1="219.10" y1="562.30" x2="243.60" y2="562.30" stroke="#5b90d8" stroke-width="1.4" />
<text font-size="10.7" text-anchor="start" fill="#000" transform="translate(247.20 566.20) scale(1.06 1)" >5 kA cm<tspan dy="-5.1" font-size="7.8">−2</tspan></text>
<line x1="219.10" y1="577.35" x2="243.60" y2="577.35" stroke="#8ccb78" stroke-width="1.4" />
<text font-size="10.7" text-anchor="start" fill="#000" transform="translate(247.20 581.25) scale(1.06 1)" >10 kA cm<tspan dy="-5.1" font-size="7.8">−2</tspan></text>
<line x1="219.10" y1="592.40" x2="243.60" y2="592.40" stroke="#b366ff" stroke-width="1.4" />
<text font-size="10.7" text-anchor="start" fill="#000" transform="translate(247.20 596.30) scale(1.06 1)" >50 kA cm<tspan dy="-5.1" font-size="7.8">−2</tspan></text>
<text font-size="15.5" text-anchor="start" fill="#000" font-weight="bold" transform="translate(364.30 521.20) scale(1.06 1)" >f</text>
<line x1="428.50" y1="519.50" x2="667.20" y2="519.50" stroke="#000" stroke-width="1" />
<line x1="428.50" y1="519.00" x2="428.50" y2="711.60" stroke="#000" stroke-width="1" />
<line x1="428.00" y1="711.10" x2="667.70" y2="711.10" stroke="#000" stroke-width="1" />
<line x1="667.20" y1="519.00" x2="667.20" y2="711.60" stroke="#000" stroke-width="1" />
<line x1="425.30" y1="711.10" x2="428.50" y2="711.10" stroke="#000" stroke-width="1" />
<text font-size="10.3" text-anchor="end" fill="#000" transform="translate(420.00 715.60) scale(1.06 1)" >10<tspan dy="-5.5" font-size="7.8">16</tspan></text>
<line x1="426.70" y1="700.02" x2="428.50" y2="700.02" stroke="#000" stroke-width="0.8" />
<line x1="426.70" y1="693.54" x2="428.50" y2="693.54" stroke="#000" stroke-width="0.8" />
<line x1="426.70" y1="688.94" x2="428.50" y2="688.94" stroke="#000" stroke-width="0.8" />
<line x1="426.70" y1="685.38" x2="428.50" y2="685.38" stroke="#000" stroke-width="0.8" />
<line x1="426.70" y1="682.46" x2="428.50" y2="682.46" stroke="#000" stroke-width="0.8" />
<line x1="426.70" y1="680.00" x2="428.50" y2="680.00" stroke="#000" stroke-width="0.8" />
<line x1="426.70" y1="677.87" x2="428.50" y2="677.87" stroke="#000" stroke-width="0.8" />
<line x1="426.70" y1="675.98" x2="428.50" y2="675.98" stroke="#000" stroke-width="0.8" />
<line x1="425.30" y1="674.30" x2="428.50" y2="674.30" stroke="#000" stroke-width="1" />
<text font-size="10.3" text-anchor="end" fill="#000" transform="translate(420.00 678.80) scale(1.06 1)" >10<tspan dy="-5.5" font-size="7.8">17</tspan></text>
<line x1="426.70" y1="663.22" x2="428.50" y2="663.22" stroke="#000" stroke-width="0.8" />
<line x1="426.70" y1="656.74" x2="428.50" y2="656.74" stroke="#000" stroke-width="0.8" />
<line x1="426.70" y1="652.14" x2="428.50" y2="652.14" stroke="#000" stroke-width="0.8" />
<line x1="426.70" y1="648.58" x2="428.50" y2="648.58" stroke="#000" stroke-width="0.8" />
<line x1="426.70" y1="645.66" x2="428.50" y2="645.66" stroke="#000" stroke-width="0.8" />
<line x1="426.70" y1="643.20" x2="428.50" y2="643.20" stroke="#000" stroke-width="0.8" />
<line x1="426.70" y1="641.07" x2="428.50" y2="641.07" stroke="#000" stroke-width="0.8" />
<line x1="426.70" y1="639.18" x2="428.50" y2="639.18" stroke="#000" stroke-width="0.8" />
<line x1="425.30" y1="637.50" x2="428.50" y2="637.50" stroke="#000" stroke-width="1" />
<text font-size="10.3" text-anchor="end" fill="#000" transform="translate(420.00 642.00) scale(1.06 1)" >10<tspan dy="-5.5" font-size="7.8">18</tspan></text>
<line x1="426.70" y1="626.42" x2="428.50" y2="626.42" stroke="#000" stroke-width="0.8" />
<line x1="426.70" y1="619.94" x2="428.50" y2="619.94" stroke="#000" stroke-width="0.8" />
<line x1="426.70" y1="615.34" x2="428.50" y2="615.34" stroke="#000" stroke-width="0.8" />
<line x1="426.70" y1="611.78" x2="428.50" y2="611.78" stroke="#000" stroke-width="0.8" />
<line x1="426.70" y1="608.86" x2="428.50" y2="608.86" stroke="#000" stroke-width="0.8" />
<line x1="426.70" y1="606.40" x2="428.50" y2="606.40" stroke="#000" stroke-width="0.8" />
<line x1="426.70" y1="604.27" x2="428.50" y2="604.27" stroke="#000" stroke-width="0.8" />
<line x1="426.70" y1="602.38" x2="428.50" y2="602.38" stroke="#000" stroke-width="0.8" />
<line x1="425.30" y1="600.70" x2="428.50" y2="600.70" stroke="#000" stroke-width="1" />
<text font-size="10.3" text-anchor="end" fill="#000" transform="translate(420.00 605.20) scale(1.06 1)" >10<tspan dy="-5.5" font-size="7.8">19</tspan></text>
<line x1="426.70" y1="589.62" x2="428.50" y2="589.62" stroke="#000" stroke-width="0.8" />
<line x1="426.70" y1="583.14" x2="428.50" y2="583.14" stroke="#000" stroke-width="0.8" />
<line x1="426.70" y1="578.54" x2="428.50" y2="578.54" stroke="#000" stroke-width="0.8" />
<line x1="426.70" y1="574.98" x2="428.50" y2="574.98" stroke="#000" stroke-width="0.8" />
<line x1="426.70" y1="572.06" x2="428.50" y2="572.06" stroke="#000" stroke-width="0.8" />
<line x1="426.70" y1="569.60" x2="428.50" y2="569.60" stroke="#000" stroke-width="0.8" />
<line x1="426.70" y1="567.47" x2="428.50" y2="567.47" stroke="#000" stroke-width="0.8" />
<line x1="426.70" y1="565.58" x2="428.50" y2="565.58" stroke="#000" stroke-width="0.8" />
<line x1="425.30" y1="563.90" x2="428.50" y2="563.90" stroke="#000" stroke-width="1" />
<text font-size="10.3" text-anchor="end" fill="#000" transform="translate(420.00 568.40) scale(1.06 1)" >10<tspan dy="-5.5" font-size="7.8">20</tspan></text>
<line x1="426.70" y1="552.82" x2="428.50" y2="552.82" stroke="#000" stroke-width="0.8" />
<line x1="426.70" y1="546.34" x2="428.50" y2="546.34" stroke="#000" stroke-width="0.8" />
<line x1="426.70" y1="541.74" x2="428.50" y2="541.74" stroke="#000" stroke-width="0.8" />
<line x1="426.70" y1="538.18" x2="428.50" y2="538.18" stroke="#000" stroke-width="0.8" />
<line x1="426.70" y1="535.26" x2="428.50" y2="535.26" stroke="#000" stroke-width="0.8" />
<line x1="426.70" y1="532.80" x2="428.50" y2="532.80" stroke="#000" stroke-width="0.8" />
<line x1="426.70" y1="530.67" x2="428.50" y2="530.67" stroke="#000" stroke-width="0.8" />
<line x1="426.70" y1="528.78" x2="428.50" y2="528.78" stroke="#000" stroke-width="0.8" />
<line x1="425.30" y1="527.10" x2="428.50" y2="527.10" stroke="#000" stroke-width="1" />
<text font-size="10.3" text-anchor="end" fill="#000" transform="translate(420.00 531.60) scale(1.06 1)" >10<tspan dy="-5.5" font-size="7.8">21</tspan></text>
<line x1="448.30" y1="711.10" x2="448.30" y2="714.50" stroke="#000" stroke-width="1" />
<text font-size="10.3" text-anchor="middle" fill="#000" transform="translate(448.30 729.00) scale(1.06 1)" >0</text>
<line x1="488.10" y1="711.10" x2="488.10" y2="714.50" stroke="#000" stroke-width="1" />
<text font-size="10.3" text-anchor="middle" fill="#000" transform="translate(488.10 729.00) scale(1.06 1)" >20</text>
<line x1="527.90" y1="711.10" x2="527.90" y2="714.50" stroke="#000" stroke-width="1" />
<text font-size="10.3" text-anchor="middle" fill="#000" transform="translate(527.90 729.00) scale(1.06 1)" >40</text>
<line x1="567.70" y1="711.10" x2="567.70" y2="714.50" stroke="#000" stroke-width="1" />
<text font-size="10.3" text-anchor="middle" fill="#000" transform="translate(567.70 729.00) scale(1.06 1)" >60</text>
<line x1="607.50" y1="711.10" x2="607.50" y2="714.50" stroke="#000" stroke-width="1" />
<text font-size="10.3" text-anchor="middle" fill="#000" transform="translate(607.50 729.00) scale(1.06 1)" >80</text>
<line x1="647.30" y1="711.10" x2="647.30" y2="714.50" stroke="#000" stroke-width="1" />
<text font-size="10.3" text-anchor="middle" fill="#000" transform="translate(647.30 729.00) scale(1.06 1)" >100</text>
<line x1="428.40" y1="711.10" x2="428.40" y2="712.90" stroke="#000" stroke-width="0.8" />
<line x1="468.20" y1="711.10" x2="468.20" y2="712.90" stroke="#000" stroke-width="0.8" />
<line x1="508.00" y1="711.10" x2="508.00" y2="712.90" stroke="#000" stroke-width="0.8" />
<line x1="547.80" y1="711.10" x2="547.80" y2="712.90" stroke="#000" stroke-width="0.8" />
<line x1="587.60" y1="711.10" x2="587.60" y2="712.90" stroke="#000" stroke-width="0.8" />
<line x1="627.40" y1="711.10" x2="627.40" y2="712.90" stroke="#000" stroke-width="0.8" />
<line x1="667.20" y1="711.10" x2="667.20" y2="712.90" stroke="#000" stroke-width="0.8" />
<text font-size="10.5" text-anchor="middle" fill="#000" transform="translate(547.80 746.50) scale(1.06 1)" >Time (µs)</text>
<text font-size="10.8" text-anchor="middle" fill="#000" transform="translate(387.60 614.90) scale(1.06 1) rotate(-90)" >Density (cm<tspan dy="-4" font-size="7">−3</tspan><tspan dy="4">)</tspan></text>
<clipPath id="fclip"><rect x="428.5" y="519.5" width="239" height="191.6"/></clipPath>
<g clip-path="url(#fclip)" stroke-linecap="butt">
<polyline points="448.60,701.30 449.00,680.00 449.50,660.00 450.00,640.00 450.40,630.00 451.00,627.60 452.50,628.60 455.00,631.30 458.00,632.30 462.00,632.70 463.20,632.80" fill="none" stroke="#555" stroke-width="2" stroke-dasharray="7 6.6" stroke-dashoffset="1.3"/>
<line x1="467.50" y1="632.8" x2="587.40" y2="632.8" stroke="#555" stroke-width="2" stroke-dasharray="7.3 6.65"/>
<line x1="587.40" y1="632.8" x2="647.60" y2="632.8" stroke="#555" stroke-width="2" stroke-dasharray="7.3 6.65"/>
<polyline points="448.80,701.30 449.10,680.00 449.50,650.00 450.00,610.00 450.60,585.00 451.40,570.00 452.60,561.00 454.20,555.50 456.30,551.20 459.00,548.30 462.00,546.90 463.20,546.60" fill="none" stroke="#e8434a" stroke-width="2" stroke-dasharray="7 6.6" stroke-dashoffset="5.4"/>
<line x1="463.10" y1="546.5" x2="587.40" y2="546.5" stroke="#e8434a" stroke-width="2" stroke-dasharray="7.3 6.65"/>
<line x1="587.40" y1="546.5" x2="647.60" y2="546.5" stroke="#e8434a" stroke-width="2" stroke-dasharray="7.3 6.65"/>
<polyline points="449.00,559.40 449.20,548.00 449.50,538.00 450.00,530.00 450.80,524.60" fill="none" stroke="#2f7ed8" stroke-width="2" stroke-dasharray="6.7 6.6"/>
<line x1="456.60" y1="521.2" x2="587.40" y2="521.2" stroke="#2f7ed8" stroke-width="2" stroke-dasharray="7.3 6.65"/>
<line x1="587.40" y1="521.2" x2="647.60" y2="521.2" stroke="#2f7ed8" stroke-width="2" stroke-dasharray="7.3 6.65"/>
</g>
<line x1="576.10" y1="579.50" x2="583.20" y2="579.50" stroke="#555" stroke-width="1.7" />
<line x1="590.10" y1="579.50" x2="597.00" y2="579.50" stroke="#555" stroke-width="1.7" />
<text font-size="10.45" text-anchor="start" fill="#000" transform="translate(604.00 583.30) scale(1.06 1)" >Singlets</text>
<line x1="576.10" y1="593.70" x2="583.20" y2="593.70" stroke="#e8434a" stroke-width="1.7" />
<line x1="590.10" y1="593.70" x2="597.00" y2="593.70" stroke="#e8434a" stroke-width="1.7" />
<text font-size="10.45" text-anchor="start" fill="#000" transform="translate(604.00 597.50) scale(1.06 1)" >Triplets</text>
<line x1="576.10" y1="607.90" x2="583.20" y2="607.90" stroke="#2f7ed8" stroke-width="1.7" />
<line x1="590.10" y1="607.90" x2="597.00" y2="607.90" stroke="#2f7ed8" stroke-width="1.7" />
<text font-size="10.45" text-anchor="start" fill="#000" transform="translate(604.00 611.70) scale(1.06 1)" >Polarons</text>
</svg>
</body></html>
